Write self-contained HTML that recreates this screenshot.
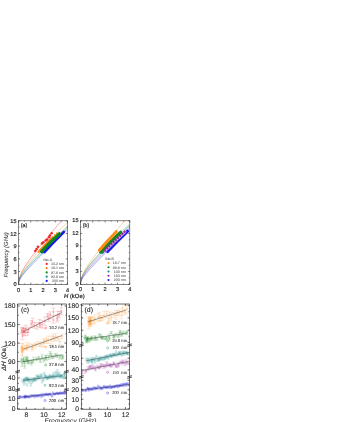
<!DOCTYPE html>
<html><head><meta charset="utf-8"><title>Figure</title>
<style>html,body{margin:0;padding:0;background:#fff}body{width:338px;height:422px;overflow:hidden;font-family:"Liberation Sans",sans-serif}svg{display:block;font-family:"Liberation Sans",sans-serif;text-rendering:geometricPrecision;will-change:transform}</style></head>
<body><svg width="338" height="422" viewBox="0 0 338 422">
<rect width="338" height="422" fill="#fff"/>
<defs><clipPath id="cpa"><rect x="18.5" y="220.8" width="49" height="63.5"/></clipPath><clipPath id="cpb"><rect x="80.5" y="220.8" width="49.3" height="63.5"/></clipPath>
<clipPath id="cpc"><rect x="17.7" y="304" width="48.8" height="105.2"/></clipPath><clipPath id="cpd"><rect x="81.3" y="304" width="48.4" height="105.2"/></clipPath></defs>
<g clip-path="url(#cpa)">
<polyline points="18.5,284.3 18.53,283.16 18.59,282.32 18.68,281.56 18.78,280.84 18.91,280.16 19.04,279.5 19.2,278.86 19.36,278.23 19.54,277.62 19.73,277.01 19.93,276.41 20.15,275.82 20.37,275.23 20.61,274.64 20.85,274.06 21.11,273.48 21.38,272.9 21.65,272.32 21.94,271.75 22.23,271.17 22.53,270.59 22.85,270.02 23.17,269.44 23.49,268.86 23.83,268.28 24.18,267.7 24.53,267.11 24.89,266.53 25.26,265.94 25.64,265.35 26.02,264.75 26.41,264.16 26.81,263.56 27.22,262.96 27.63,262.35 28.06,261.74 28.48,261.13 28.92,260.52 29.36,259.9 29.81,259.28 30.27,258.65 30.73,258.02 31.2,257.39 31.67,256.75 32.16,256.11 32.65,255.47 33.14,254.82 33.64,254.16 34.15,253.51 34.66,252.84 35.18,252.18 35.71,251.51 36.24,250.83 36.78,250.15 37.33,249.47 37.88,248.78 38.43,248.09 39,247.4 39.56,246.69 40.14,245.99 40.72,245.28 41.3,244.57 41.9,243.85 42.49,243.12 43.1,242.39 43.7,241.66 44.32,240.93 44.94,240.18 45.56,239.44 46.19,238.69 46.83,237.93 47.47,237.17 48.12,236.41 48.77,235.64 49.42,234.86 50.09,234.08 50.75,233.3 51.43,232.51 52.1,231.72 52.79,230.92 53.48,230.12 54.17,229.31 54.87,228.5 55.57,227.69 56.28,226.86 56.99,226.04 57.71,225.21 58.44,224.37 59.16,223.54 59.9,222.69 60.64,221.84 61.38,220.99 62.13,220.13 62.88,219.27 63.64,218.4 64.4,217.53 65.17,216.65 65.94,215.77 66.72,214.89 67.5,214" fill="none" stroke="#f0202a" stroke-width="0.5" opacity="0.8"/>
<polyline points="18.5,284.3 18.53,283.25 18.59,282.47 18.68,281.77 18.78,281.11 18.91,280.48 19.04,279.87 19.2,279.28 19.36,278.7 19.54,278.13 19.73,277.58 19.93,277.03 20.15,276.48 20.37,275.94 20.61,275.41 20.85,274.88 21.11,274.35 21.38,273.82 21.65,273.3 21.94,272.77 22.23,272.25 22.53,271.73 22.85,271.21 23.17,270.68 23.49,270.16 23.83,269.64 24.18,269.11 24.53,268.59 24.89,268.06 25.26,267.54 25.64,267.01 26.02,266.48 26.41,265.94 26.81,265.41 27.22,264.87 27.63,264.34 28.06,263.79 28.48,263.25 28.92,262.71 29.36,262.16 29.81,261.61 30.27,261.05 30.73,260.5 31.2,259.94 31.67,259.37 32.16,258.81 32.65,258.24 33.14,257.67 33.64,257.1 34.15,256.52 34.66,255.94 35.18,255.35 35.71,254.77 36.24,254.17 36.78,253.58 37.33,252.98 37.88,252.38 38.43,251.78 39,251.17 39.56,250.56 40.14,249.94 40.72,249.32 41.3,248.7 41.9,248.08 42.49,247.45 43.1,246.81 43.7,246.18 44.32,245.54 44.94,244.89 45.56,244.25 46.19,243.6 46.83,242.94 47.47,242.28 48.12,241.62 48.77,240.95 49.42,240.28 50.09,239.61 50.75,238.93 51.43,238.25 52.1,237.57 52.79,236.88 53.48,236.18 54.17,235.49 54.87,234.79 55.57,234.08 56.28,233.38 56.99,232.67 57.71,231.95 58.44,231.23 59.16,230.51 59.9,229.78 60.64,229.05 61.38,228.32 62.13,227.58 62.88,226.84 63.64,226.09 64.4,225.34 65.17,224.59 65.94,223.83 66.72,223.07 67.5,222.31" fill="none" stroke="#ff8a14" stroke-width="0.5" opacity="0.8"/>
<polyline points="18.5,284.3 18.53,283.38 18.59,282.69 18.68,282.08 18.78,281.5 18.91,280.94 19.04,280.41 19.2,279.89 19.36,279.38 19.54,278.88 19.73,278.38 19.93,277.9 20.15,277.41 20.37,276.93 20.61,276.46 20.85,275.98 21.11,275.51 21.38,275.04 21.65,274.57 21.94,274.1 22.23,273.63 22.53,273.16 22.85,272.68 23.17,272.21 23.49,271.74 23.83,271.26 24.18,270.79 24.53,270.31 24.89,269.83 25.26,269.35 25.64,268.86 26.02,268.38 26.41,267.89 26.81,267.4 27.22,266.9 27.63,266.41 28.06,265.91 28.48,265.4 28.92,264.9 29.36,264.39 29.81,263.88 30.27,263.36 30.73,262.85 31.2,262.32 31.67,261.8 32.16,261.27 32.65,260.74 33.14,260.21 33.64,259.67 34.15,259.12 34.66,258.58 35.18,258.03 35.71,257.48 36.24,256.92 36.78,256.36 37.33,255.8 37.88,255.23 38.43,254.66 39,254.08 39.56,253.5 40.14,252.92 40.72,252.33 41.3,251.74 41.9,251.15 42.49,250.55 43.1,249.95 43.7,249.34 44.32,248.73 44.94,248.12 45.56,247.5 46.19,246.88 46.83,246.25 47.47,245.63 48.12,244.99 48.77,244.36 49.42,243.71 50.09,243.07 50.75,242.42 51.43,241.77 52.1,241.11 52.79,240.45 53.48,239.79 54.17,239.12 54.87,238.44 55.57,237.77 56.28,237.09 56.99,236.4 57.71,235.72 58.44,235.02 59.16,234.33 59.9,233.63 60.64,232.92 61.38,232.22 62.13,231.51 62.88,230.79 63.64,230.07 64.4,229.35 65.17,228.62 65.94,227.89 66.72,227.16 67.5,226.42" fill="none" stroke="#14851e" stroke-width="0.5" opacity="0.8"/>
<polyline points="18.5,284.3 18.53,283.49 18.59,282.88 18.68,282.33 18.78,281.82 18.91,281.33 19.04,280.85 19.2,280.39 19.36,279.93 19.54,279.48 19.73,279.04 19.93,278.6 20.15,278.16 20.37,277.73 20.61,277.3 20.85,276.86 21.11,276.43 21.38,276 21.65,275.57 21.94,275.13 22.23,274.7 22.53,274.26 22.85,273.82 23.17,273.38 23.49,272.94 23.83,272.5 24.18,272.05 24.53,271.6 24.89,271.14 25.26,270.69 25.64,270.23 26.02,269.77 26.41,269.3 26.81,268.83 27.22,268.36 27.63,267.88 28.06,267.4 28.48,266.92 28.92,266.43 29.36,265.94 29.81,265.44 30.27,264.94 30.73,264.44 31.2,263.93 31.67,263.42 32.16,262.9 32.65,262.38 33.14,261.86 33.64,261.33 34.15,260.8 34.66,260.26 35.18,259.72 35.71,259.18 36.24,258.63 36.78,258.07 37.33,257.51 37.88,256.95 38.43,256.38 39,255.81 39.56,255.24 40.14,254.66 40.72,254.07 41.3,253.48 41.9,252.89 42.49,252.29 43.1,251.69 43.7,251.09 44.32,250.48 44.94,249.86 45.56,249.24 46.19,248.62 46.83,247.99 47.47,247.36 48.12,246.72 48.77,246.08 49.42,245.43 50.09,244.78 50.75,244.13 51.43,243.47 52.1,242.81 52.79,242.14 53.48,241.47 54.17,240.8 54.87,240.12 55.57,239.43 56.28,238.74 56.99,238.05 57.71,237.35 58.44,236.65 59.16,235.95 59.9,235.24 60.64,234.52 61.38,233.81 62.13,233.08 62.88,232.36 63.64,231.63 64.4,230.89 65.17,230.15 65.94,229.41 66.72,228.66 67.5,227.91" fill="none" stroke="#179090" stroke-width="0.5" opacity="0.8"/>
<polyline points="18.5,284.3 18.53,283.59 18.59,283.06 18.68,282.59 18.78,282.14 18.91,281.7 19.04,281.28 19.2,280.87 19.36,280.47 19.54,280.07 19.73,279.68 19.93,279.28 20.15,278.89 20.37,278.5 20.61,278.11 20.85,277.71 21.11,277.32 21.38,276.93 21.65,276.53 21.94,276.13 22.23,275.73 22.53,275.32 22.85,274.92 23.17,274.5 23.49,274.09 23.83,273.67 24.18,273.25 24.53,272.83 24.89,272.4 25.26,271.96 25.64,271.53 26.02,271.09 26.41,270.64 26.81,270.19 27.22,269.73 27.63,269.28 28.06,268.81 28.48,268.34 28.92,267.87 29.36,267.39 29.81,266.91 30.27,266.43 30.73,265.93 31.2,265.44 31.67,264.94 32.16,264.43 32.65,263.92 33.14,263.41 33.64,262.89 34.15,262.36 34.66,261.83 35.18,261.3 35.71,260.76 36.24,260.21 36.78,259.66 37.33,259.11 37.88,258.55 38.43,257.99 39,257.42 39.56,256.84 40.14,256.27 40.72,255.68 41.3,255.1 41.9,254.5 42.49,253.91 43.1,253.3 43.7,252.7 44.32,252.09 44.94,251.47 45.56,250.85 46.19,250.22 46.83,249.59 47.47,248.96 48.12,248.32 48.77,247.67 49.42,247.02 50.09,246.37 50.75,245.71 51.43,245.05 52.1,244.38 52.79,243.71 53.48,243.03 54.17,242.35 54.87,241.66 55.57,240.97 56.28,240.27 56.99,239.57 57.71,238.87 58.44,238.16 59.16,237.45 59.9,236.73 60.64,236.01 61.38,235.28 62.13,234.55 62.88,233.81 63.64,233.07 64.4,232.33 65.17,231.58 65.94,230.83 66.72,230.07 67.5,229.31" fill="none" stroke="#1a1af0" stroke-width="0.5" opacity="0.8"/>
<path d="M42 252.2Q49.65 243.75 58 236" fill="none" stroke="#179090" stroke-width="3.0" stroke-linecap="round"/>
<path d="M44.4 252Q53.75 241.6 63.8 231.9" fill="none" stroke="#1a1af0" stroke-width="2.8" stroke-linecap="round"/>
<path d="M38.8 251.8Q45.3 244.35 52.5 237.6" fill="none" stroke="#ff8a14" stroke-width="2.4" stroke-linecap="round"/>
<path d="M53 237Q54.65 234.75 57 233.2" fill="none" stroke="#ff8a14" stroke-width="1.8" stroke-linecap="round" stroke-dasharray="0.1 2.6"/>
<path d="M41.6 251.4Q50.15 242.25 59.4 233.8" fill="none" stroke="#14851e" stroke-width="3.2" stroke-linecap="round"/>
<circle cx="35.34" cy="250.99" r="1.25" fill="#f0202a"/>
<circle cx="36.52" cy="248.98" r="1.25" fill="#f0202a"/>
<circle cx="37.94" cy="246.85" r="1.25" fill="#f0202a"/>
<circle cx="41.96" cy="243.54" r="1.25" fill="#f0202a"/>
<circle cx="43.38" cy="242.36" r="1.25" fill="#f0202a"/>
<circle cx="45.75" cy="240.58" r="1.25" fill="#f0202a"/>
<circle cx="47.17" cy="239.51" r="1.25" fill="#f0202a"/>
<circle cx="49.07" cy="237.15" r="1.25" fill="#f0202a"/>
<circle cx="50.01" cy="235.49" r="1.25" fill="#f0202a"/>
<circle cx="51.67" cy="233.36" r="1.25" fill="#f0202a"/>
</g>
<rect x="18.5" y="220.8" width="49" height="63.5" fill="none" stroke="#333" stroke-width="0.6"/>
<path d="M18.5 284.3h1.6M67.5 284.3h-1.6" stroke="#222" stroke-width="0.6"/>
<text x="16.5" y="286.3" font-size="5.6" text-anchor="end" fill="#222" stroke="#222" stroke-width="0.16">0</text>
<path d="M18.5 271.6h1.6M67.5 271.6h-1.6" stroke="#222" stroke-width="0.6"/>
<text x="16.5" y="273.6" font-size="5.6" text-anchor="end" fill="#222" stroke="#222" stroke-width="0.16">3</text>
<path d="M18.5 258.9h1.6M67.5 258.9h-1.6" stroke="#222" stroke-width="0.6"/>
<text x="16.5" y="260.9" font-size="5.6" text-anchor="end" fill="#222" stroke="#222" stroke-width="0.16">6</text>
<path d="M18.5 246.2h1.6M67.5 246.2h-1.6" stroke="#222" stroke-width="0.6"/>
<text x="16.5" y="248.2" font-size="5.6" text-anchor="end" fill="#222" stroke="#222" stroke-width="0.16">9</text>
<path d="M18.5 233.5h1.6M67.5 233.5h-1.6" stroke="#222" stroke-width="0.6"/>
<text x="16.5" y="235.5" font-size="5.6" text-anchor="end" fill="#222" stroke="#222" stroke-width="0.16">12</text>
<path d="M18.5 220.8h1.6M67.5 220.8h-1.6" stroke="#222" stroke-width="0.6"/>
<text x="16.5" y="222.8" font-size="5.6" text-anchor="end" fill="#222" stroke="#222" stroke-width="0.16">15</text>
<path d="M18.5 277.95h1M67.5 277.95h-1" stroke="#222" stroke-width="0.5"/>
<path d="M18.5 265.25h1M67.5 265.25h-1" stroke="#222" stroke-width="0.5"/>
<path d="M18.5 252.55h1M67.5 252.55h-1" stroke="#222" stroke-width="0.5"/>
<path d="M18.5 239.85h1M67.5 239.85h-1" stroke="#222" stroke-width="0.5"/>
<path d="M18.5 227.15h1M67.5 227.15h-1" stroke="#222" stroke-width="0.5"/>
<path d="M18.5 284.3v-1.6M18.5 220.8v1.6" stroke="#222" stroke-width="0.6"/>
<text x="18.5" y="291.6" font-size="5.6" text-anchor="middle" fill="#222" stroke="#222" stroke-width="0.16">0</text>
<path d="M30.75 284.3v-1.6M30.75 220.8v1.6" stroke="#222" stroke-width="0.6"/>
<text x="30.75" y="291.6" font-size="5.6" text-anchor="middle" fill="#222" stroke="#222" stroke-width="0.16">1</text>
<path d="M43 284.3v-1.6M43 220.8v1.6" stroke="#222" stroke-width="0.6"/>
<text x="43" y="291.6" font-size="5.6" text-anchor="middle" fill="#222" stroke="#222" stroke-width="0.16">2</text>
<path d="M55.25 284.3v-1.6M55.25 220.8v1.6" stroke="#222" stroke-width="0.6"/>
<text x="55.25" y="291.6" font-size="5.6" text-anchor="middle" fill="#222" stroke="#222" stroke-width="0.16">3</text>
<path d="M67.5 284.3v-1.6M67.5 220.8v1.6" stroke="#222" stroke-width="0.6"/>
<text x="67.5" y="291.6" font-size="5.6" text-anchor="middle" fill="#222" stroke="#222" stroke-width="0.16">4</text>
<path d="M24.62 284.3v-1M24.62 220.8v1" stroke="#222" stroke-width="0.5"/>
<path d="M36.88 284.3v-1M36.88 220.8v1" stroke="#222" stroke-width="0.5"/>
<path d="M49.12 284.3v-1M49.12 220.8v1" stroke="#222" stroke-width="0.5"/>
<path d="M61.38 284.3v-1M61.38 220.8v1" stroke="#222" stroke-width="0.5"/>
<text x="20.7" y="227.4" font-size="5.3" text-anchor="start" fill="#222" stroke="#222" stroke-width="0.16">(a)</text>
<text x="43.2" y="260.6" font-size="3.6" text-anchor="start" fill="#555" stroke="#555" stroke-width="0.05">Set-A</text>
<circle cx="46.7" cy="263.9" r="1.1" fill="#f0202a"/>
<text x="63.9" y="265.15" font-size="3.6" text-anchor="end" fill="#555" stroke="#555" stroke-width="0.05">10.2 nm</text>
<circle cx="46.7" cy="268.15" r="1.1" fill="#ff8a14"/>
<text x="63.9" y="269.4" font-size="3.6" text-anchor="end" fill="#555" stroke="#555" stroke-width="0.05">18.1 nm</text>
<circle cx="46.7" cy="272.4" r="1.1" fill="#14851e"/>
<text x="63.9" y="273.65" font-size="3.6" text-anchor="end" fill="#555" stroke="#555" stroke-width="0.05">37.6 nm</text>
<circle cx="46.7" cy="276.65" r="1.1" fill="#179090"/>
<text x="63.9" y="277.9" font-size="3.6" text-anchor="end" fill="#555" stroke="#555" stroke-width="0.05">92.3 nm</text>
<circle cx="46.7" cy="280.9" r="1.1" fill="#1a1af0"/>
<text x="63.9" y="282.15" font-size="3.6" text-anchor="end" fill="#555" stroke="#555" stroke-width="0.05">200 nm</text>
<g clip-path="url(#cpb)">
<polyline points="80.5,284.3 80.53,283.19 80.59,282.36 80.68,281.62 80.79,280.92 80.91,280.25 81.05,279.6 81.2,278.97 81.37,278.36 81.55,277.75 81.74,277.16 81.94,276.57 82.16,275.99 82.38,275.41 82.62,274.84 82.87,274.27 83.13,273.7 83.39,273.13 83.67,272.56 83.96,272 84.25,271.43 84.56,270.87 84.87,270.3 85.19,269.73 85.53,269.16 85.86,268.59 86.21,268.02 86.57,267.45 86.93,266.87 87.3,266.29 87.68,265.71 88.07,265.13 88.46,264.54 88.87,263.95 89.27,263.36 89.69,262.77 90.11,262.17 90.55,261.57 90.98,260.96 91.43,260.35 91.88,259.74 92.34,259.12 92.8,258.5 93.28,257.88 93.75,257.25 94.24,256.62 94.73,255.98 95.23,255.34 95.73,254.7 96.25,254.05 96.76,253.4 97.29,252.74 97.82,252.08 98.35,251.42 98.89,250.75 99.44,250.08 100,249.4 100.56,248.72 101.12,248.03 101.69,247.34 102.27,246.64 102.85,245.94 103.44,245.24 104.04,244.53 104.64,243.82 105.25,243.1 105.86,242.37 106.48,241.65 107.1,240.92 107.73,240.18 108.36,239.44 109,238.69 109.65,237.94 110.3,237.19 110.95,236.43 111.61,235.66 112.28,234.89 112.95,234.12 113.63,233.34 114.31,232.56 115,231.77 115.69,230.98 116.39,230.18 117.09,229.38 117.8,228.58 118.51,227.77 119.23,226.95 119.95,226.13 120.68,225.31 121.41,224.48 122.15,223.65 122.89,222.81 123.64,221.96 124.4,221.12 125.15,220.27 125.92,219.41 126.68,218.55 127.45,217.68 128.23,216.81 129.01,215.94 129.8,215.06" fill="none" stroke="#ff8a14" stroke-width="0.5" opacity="0.8"/>
<polyline points="80.5,284.3 80.53,283.27 80.59,282.5 80.68,281.8 80.79,281.15 80.91,280.53 81.05,279.94 81.2,279.35 81.37,278.79 81.55,278.23 81.74,277.68 81.94,277.14 82.16,276.61 82.38,276.08 82.62,275.55 82.87,275.03 83.13,274.51 83.39,273.99 83.67,273.48 83.96,272.97 84.25,272.45 84.56,271.94 84.87,271.43 85.19,270.92 85.53,270.41 85.86,269.9 86.21,269.38 86.57,268.87 86.93,268.36 87.3,267.84 87.68,267.33 88.07,266.81 88.46,266.29 88.87,265.77 89.27,265.24 89.69,264.72 90.11,264.19 90.55,263.66 90.98,263.13 91.43,262.6 91.88,262.06 92.34,261.52 92.8,260.98 93.28,260.44 93.75,259.89 94.24,259.34 94.73,258.79 95.23,258.23 95.73,257.67 96.25,257.11 96.76,256.55 97.29,255.98 97.82,255.41 98.35,254.84 98.89,254.26 99.44,253.68 100,253.1 100.56,252.51 101.12,251.92 101.69,251.33 102.27,250.73 102.85,250.14 103.44,249.53 104.04,248.93 104.64,248.32 105.25,247.7 105.86,247.09 106.48,246.47 107.1,245.84 107.73,245.22 108.36,244.59 109,243.95 109.65,243.32 110.3,242.68 110.95,242.03 111.61,241.38 112.28,240.73 112.95,240.08 113.63,239.42 114.31,238.76 115,238.09 115.69,237.42 116.39,236.75 117.09,236.07 117.8,235.39 118.51,234.71 119.23,234.02 119.95,233.33 120.68,232.64 121.41,231.94 122.15,231.24 122.89,230.53 123.64,229.82 124.4,229.11 125.15,228.4 125.92,227.68 126.68,226.95 127.45,226.23 128.23,225.5 129.01,224.76 129.8,224.02" fill="none" stroke="#14851e" stroke-width="0.5" opacity="0.8"/>
<polyline points="80.5,284.3 80.53,283.35 80.59,282.65 80.68,282.01 80.79,281.41 80.91,280.84 81.05,280.29 81.2,279.76 81.37,279.23 81.55,278.72 81.74,278.21 81.94,277.71 82.16,277.21 82.38,276.72 82.62,276.23 82.87,275.75 83.13,275.26 83.39,274.78 83.67,274.29 83.96,273.81 84.25,273.33 84.56,272.85 84.87,272.37 85.19,271.88 85.53,271.4 85.86,270.91 86.21,270.43 86.57,269.94 86.93,269.45 87.3,268.95 87.68,268.46 88.07,267.96 88.46,267.47 88.87,266.96 89.27,266.46 89.69,265.95 90.11,265.44 90.55,264.93 90.98,264.42 91.43,263.9 91.88,263.38 92.34,262.86 92.8,262.33 93.28,261.8 93.75,261.26 94.24,260.73 94.73,260.19 95.23,259.64 95.73,259.1 96.25,258.54 96.76,257.99 97.29,257.43 97.82,256.87 98.35,256.31 98.89,255.74 99.44,255.16 100,254.59 100.56,254.01 101.12,253.42 101.69,252.84 102.27,252.25 102.85,251.65 103.44,251.05 104.04,250.45 104.64,249.84 105.25,249.23 105.86,248.62 106.48,248 107.1,247.38 107.73,246.75 108.36,246.12 109,245.49 109.65,244.85 110.3,244.21 110.95,243.57 111.61,242.92 112.28,242.26 112.95,241.61 113.63,240.95 114.31,240.28 115,239.61 115.69,238.94 116.39,238.26 117.09,237.58 117.8,236.9 118.51,236.21 119.23,235.52 119.95,234.82 120.68,234.12 121.41,233.42 122.15,232.71 122.89,232 123.64,231.28 124.4,230.57 125.15,229.84 125.92,229.11 126.68,228.38 127.45,227.65 128.23,226.91 129.01,226.17 129.8,225.42" fill="none" stroke="#179090" stroke-width="0.5" opacity="0.8"/>
<polyline points="80.5,284.3 80.53,283.47 80.59,282.85 80.68,282.29 80.79,281.76 80.91,281.26 81.05,280.77 81.2,280.29 81.37,279.83 81.55,279.37 81.74,278.91 81.94,278.46 82.16,278.02 82.38,277.57 82.62,277.13 82.87,276.69 83.13,276.25 83.39,275.81 83.67,275.37 83.96,274.92 84.25,274.48 84.56,274.04 84.87,273.59 85.19,273.14 85.53,272.69 85.86,272.24 86.21,271.78 86.57,271.32 86.93,270.86 87.3,270.39 87.68,269.93 88.07,269.46 88.46,268.98 88.87,268.5 89.27,268.02 89.69,267.54 90.11,267.05 90.55,266.56 90.98,266.06 91.43,265.56 91.88,265.06 92.34,264.55 92.8,264.04 93.28,263.52 93.75,263 94.24,262.48 94.73,261.95 95.23,261.42 95.73,260.88 96.25,260.34 96.76,259.8 97.29,259.25 97.82,258.7 98.35,258.14 98.89,257.58 99.44,257.01 100,256.44 100.56,255.86 101.12,255.28 101.69,254.7 102.27,254.11 102.85,253.52 103.44,252.92 104.04,252.32 104.64,251.72 105.25,251.1 105.86,250.49 106.48,249.87 107.1,249.25 107.73,248.62 108.36,247.99 109,247.35 109.65,246.71 110.3,246.07 110.95,245.42 111.61,244.76 112.28,244.1 112.95,243.44 113.63,242.77 114.31,242.1 115,241.43 115.69,240.75 116.39,240.06 117.09,239.37 117.8,238.68 118.51,237.98 119.23,237.28 119.95,236.58 120.68,235.87 121.41,235.15 122.15,234.43 122.89,233.71 123.64,232.98 124.4,232.25 125.15,231.52 125.92,230.78 126.68,230.03 127.45,229.28 128.23,228.53 129.01,227.77 129.8,227.01" fill="none" stroke="#a020a0" stroke-width="0.5" opacity="0.8"/>
<polyline points="80.5,284.3 80.53,283.6 80.59,283.09 80.68,282.62 80.79,282.18 80.91,281.75 81.05,281.34 81.2,280.93 81.37,280.53 81.55,280.14 81.74,279.75 81.94,279.36 82.16,278.97 82.38,278.58 82.62,278.19 82.87,277.8 83.13,277.41 83.39,277.02 83.67,276.62 83.96,276.22 84.25,275.82 84.56,275.41 84.87,275 85.19,274.59 85.53,274.18 85.86,273.76 86.21,273.33 86.57,272.9 86.93,272.47 87.3,272.03 87.68,271.59 88.07,271.14 88.46,270.69 88.87,270.24 89.27,269.78 89.69,269.31 90.11,268.84 90.55,268.37 90.98,267.89 91.43,267.4 91.88,266.91 92.34,266.42 92.8,265.92 93.28,265.41 93.75,264.9 94.24,264.39 94.73,263.87 95.23,263.34 95.73,262.81 96.25,262.28 96.76,261.74 97.29,261.19 97.82,260.64 98.35,260.08 98.89,259.52 99.44,258.96 100,258.39 100.56,257.81 101.12,257.23 101.69,256.64 102.27,256.05 102.85,255.45 103.44,254.85 104.04,254.25 104.64,253.64 105.25,253.02 105.86,252.4 106.48,251.77 107.1,251.14 107.73,250.5 108.36,249.86 109,249.22 109.65,248.56 110.3,247.91 110.95,247.25 111.61,246.58 112.28,245.91 112.95,245.24 113.63,244.56 114.31,243.87 115,243.18 115.69,242.49 116.39,241.79 117.09,241.08 117.8,240.38 118.51,239.66 119.23,238.94 119.95,238.22 120.68,237.49 121.41,236.76 122.15,236.02 122.89,235.28 123.64,234.54 124.4,233.79 125.15,233.03 125.92,232.27 126.68,231.51 127.45,230.74 128.23,229.96 129.01,229.18 129.8,228.4" fill="none" stroke="#1a1af0" stroke-width="0.5" opacity="0.8"/>
<path d="M102.5 252.3Q111.4 242.55 121 233.5" fill="none" stroke="#179090" stroke-width="3.0" stroke-linecap="round"/>
<path d="M107.5 251.4Q117.1 241 127.4 231.3" fill="none" stroke="#1a1af0" stroke-width="3.3" stroke-linecap="round"/>
<path d="M105.1 250.6Q114.7 240.75 125 231.6" fill="none" stroke="#cfc8f0" stroke-width="3.0" stroke-linecap="round"/>
<path d="M100.6 252.2Q110.3 241.85 120.7 232.2" fill="none" stroke="#14851e" stroke-width="3.1" stroke-linecap="round"/>
<path d="M105.1 250.6Q114.7 240.75 125 231.6" fill="none" stroke="#a020a0" stroke-width="2.4" stroke-linecap="round" stroke-dasharray="0.1 2.9"/>
<path d="M99.3 250.2Q107.45 240.6 116.3 231.7" fill="none" stroke="#ff8a14" stroke-width="3.0" stroke-linecap="round"/>
</g>
<rect x="80.5" y="220.8" width="49.3" height="63.5" fill="none" stroke="#333" stroke-width="0.6"/>
<path d="M80.5 284.3h1.6M129.8 284.3h-1.6" stroke="#222" stroke-width="0.6"/>
<text x="78.5" y="285.5" font-size="5.6" text-anchor="end" fill="#222" stroke="#222" stroke-width="0.16">0</text>
<path d="M80.5 271.6h1.6M129.8 271.6h-1.6" stroke="#222" stroke-width="0.6"/>
<text x="78.5" y="272.8" font-size="5.6" text-anchor="end" fill="#222" stroke="#222" stroke-width="0.16">3</text>
<path d="M80.5 258.9h1.6M129.8 258.9h-1.6" stroke="#222" stroke-width="0.6"/>
<text x="78.5" y="260.1" font-size="5.6" text-anchor="end" fill="#222" stroke="#222" stroke-width="0.16">6</text>
<path d="M80.5 246.2h1.6M129.8 246.2h-1.6" stroke="#222" stroke-width="0.6"/>
<text x="78.5" y="247.4" font-size="5.6" text-anchor="end" fill="#222" stroke="#222" stroke-width="0.16">9</text>
<path d="M80.5 233.5h1.6M129.8 233.5h-1.6" stroke="#222" stroke-width="0.6"/>
<text x="78.5" y="234.7" font-size="5.6" text-anchor="end" fill="#222" stroke="#222" stroke-width="0.16">12</text>
<path d="M80.5 220.8h1.6M129.8 220.8h-1.6" stroke="#222" stroke-width="0.6"/>
<text x="78.5" y="222" font-size="5.6" text-anchor="end" fill="#222" stroke="#222" stroke-width="0.16">15</text>
<path d="M80.5 277.95h1M129.8 277.95h-1" stroke="#222" stroke-width="0.5"/>
<path d="M80.5 265.25h1M129.8 265.25h-1" stroke="#222" stroke-width="0.5"/>
<path d="M80.5 252.55h1M129.8 252.55h-1" stroke="#222" stroke-width="0.5"/>
<path d="M80.5 239.85h1M129.8 239.85h-1" stroke="#222" stroke-width="0.5"/>
<path d="M80.5 227.15h1M129.8 227.15h-1" stroke="#222" stroke-width="0.5"/>
<path d="M80.5 284.3v-1.6M80.5 220.8v1.6" stroke="#222" stroke-width="0.6"/>
<text x="80.5" y="290.9" font-size="5.6" text-anchor="middle" fill="#222" stroke="#222" stroke-width="0.16">0</text>
<path d="M92.83 284.3v-1.6M92.83 220.8v1.6" stroke="#222" stroke-width="0.6"/>
<text x="92.83" y="290.9" font-size="5.6" text-anchor="middle" fill="#222" stroke="#222" stroke-width="0.16">1</text>
<path d="M105.15 284.3v-1.6M105.15 220.8v1.6" stroke="#222" stroke-width="0.6"/>
<text x="105.15" y="290.9" font-size="5.6" text-anchor="middle" fill="#222" stroke="#222" stroke-width="0.16">2</text>
<path d="M117.48 284.3v-1.6M117.48 220.8v1.6" stroke="#222" stroke-width="0.6"/>
<text x="117.48" y="290.9" font-size="5.6" text-anchor="middle" fill="#222" stroke="#222" stroke-width="0.16">3</text>
<path d="M129.8 284.3v-1.6M129.8 220.8v1.6" stroke="#222" stroke-width="0.6"/>
<text x="129.8" y="290.9" font-size="5.6" text-anchor="middle" fill="#222" stroke="#222" stroke-width="0.16">4</text>
<path d="M86.66 284.3v-1M86.66 220.8v1" stroke="#222" stroke-width="0.5"/>
<path d="M98.99 284.3v-1M98.99 220.8v1" stroke="#222" stroke-width="0.5"/>
<path d="M111.31 284.3v-1M111.31 220.8v1" stroke="#222" stroke-width="0.5"/>
<path d="M123.64 284.3v-1M123.64 220.8v1" stroke="#222" stroke-width="0.5"/>
<text x="82.7" y="227.4" font-size="5.3" text-anchor="start" fill="#222" stroke="#222" stroke-width="0.16">(b)</text>
<text x="105" y="259.7" font-size="3.6" text-anchor="start" fill="#555" stroke="#555" stroke-width="0.05">Set-B</text>
<circle cx="108.5" cy="263" r="1.1" fill="#ff8a14"/>
<text x="125.7" y="264.25" font-size="3.6" text-anchor="end" fill="#555" stroke="#555" stroke-width="0.05">18.7 nm</text>
<circle cx="108.5" cy="267.25" r="1.1" fill="#14851e"/>
<text x="125.7" y="268.5" font-size="3.6" text-anchor="end" fill="#555" stroke="#555" stroke-width="0.05">39.8 nm</text>
<circle cx="108.5" cy="271.5" r="1.1" fill="#179090"/>
<text x="125.7" y="272.75" font-size="3.6" text-anchor="end" fill="#555" stroke="#555" stroke-width="0.05">100 nm</text>
<circle cx="108.5" cy="275.75" r="1.1" fill="#a020a0"/>
<text x="125.7" y="277" font-size="3.6" text-anchor="end" fill="#555" stroke="#555" stroke-width="0.05">150 nm</text>
<circle cx="108.5" cy="280" r="1.1" fill="#1a1af0"/>
<text x="125.7" y="281.25" font-size="3.6" text-anchor="end" fill="#555" stroke="#555" stroke-width="0.05">200 nm</text>
<text x="7.8" y="254.8" font-size="5.9" text-anchor="middle" fill="#333" stroke="#333" stroke-width="0.06" font-style="italic" transform="rotate(-90 7.8 254.8)">Frequency (GHz)</text>
<text x="64.0" y="298.4" font-size="5.9" fill="#222" stroke="#222" stroke-width="0.2"><tspan font-style="italic">H</tspan> (kOe)</text>
<g clip-path="url(#cpc)">
<path d="M23.65 327.1V332.39M21.65 327.1h4M21.65 332.39h4" stroke="#f0202a" stroke-width="0.35" fill="none" opacity="0.53"/>
<circle cx="23.65" cy="329.74" r="0.85" stroke="#f0202a" stroke-width="0.35" fill="none" opacity="0.6"/>
<path d="M22.5 332.48V339.56M20.5 332.48h4M20.5 339.56h4" stroke="#f0202a" stroke-width="0.35" fill="none" opacity="0.53"/>
<circle cx="22.5" cy="336.02" r="0.85" stroke="#f0202a" stroke-width="0.35" fill="none" opacity="0.6"/>
<path d="M25.82 325.3V332.24M23.82 325.3h4M23.82 332.24h4" stroke="#f0202a" stroke-width="0.35" fill="none" opacity="0.53"/>
<circle cx="25.82" cy="328.77" r="0.85" stroke="#f0202a" stroke-width="0.35" fill="none" opacity="0.6"/>
<path d="M21.98 328V332.76M19.98 328h4M19.98 332.76h4" stroke="#f0202a" stroke-width="0.35" fill="none" opacity="0.53"/>
<circle cx="21.98" cy="330.38" r="0.85" stroke="#f0202a" stroke-width="0.35" fill="none" opacity="0.6"/>
<path d="M25.06 328.39V335.92M23.06 328.39h4M23.06 335.92h4" stroke="#f0202a" stroke-width="0.35" fill="none" opacity="0.53"/>
<circle cx="25.06" cy="332.15" r="0.85" stroke="#f0202a" stroke-width="0.35" fill="none" opacity="0.6"/>
<path d="M23.93 328.59V334.99M21.93 328.59h4M21.93 334.99h4" stroke="#f0202a" stroke-width="0.35" fill="none" opacity="0.53"/>
<circle cx="23.93" cy="331.79" r="0.85" stroke="#f0202a" stroke-width="0.35" fill="none" opacity="0.6"/>
<path d="M21.89 327.7V334.21M19.89 327.7h4M19.89 334.21h4" stroke="#f0202a" stroke-width="0.35" fill="none" opacity="0.53"/>
<circle cx="21.89" cy="330.95" r="0.85" stroke="#f0202a" stroke-width="0.35" fill="none" opacity="0.6"/>
<path d="M27.46 329.47V335.29M25.46 329.47h4M25.46 335.29h4" stroke="#f0202a" stroke-width="0.35" fill="none" opacity="0.53"/>
<circle cx="27.46" cy="332.38" r="0.85" stroke="#f0202a" stroke-width="0.35" fill="none" opacity="0.6"/>
<path d="M28.47 327.19V332.76M26.47 327.19h4M26.47 332.76h4" stroke="#f0202a" stroke-width="0.35" fill="none" opacity="0.53"/>
<circle cx="28.47" cy="329.97" r="0.85" stroke="#f0202a" stroke-width="0.35" fill="none" opacity="0.6"/>
<path d="M31.16 320.52V327.58M29.16 320.52h4M29.16 327.58h4" stroke="#f0202a" stroke-width="0.35" fill="none" opacity="0.53"/>
<circle cx="31.16" cy="324.05" r="0.85" stroke="#f0202a" stroke-width="0.35" fill="none" opacity="0.6"/>
<path d="M32.38 318.31V326.06M30.38 318.31h4M30.38 326.06h4" stroke="#f0202a" stroke-width="0.35" fill="none" opacity="0.53"/>
<circle cx="32.38" cy="322.19" r="0.85" stroke="#f0202a" stroke-width="0.35" fill="none" opacity="0.6"/>
<path d="M34.34 322.4V328.17M32.34 322.4h4M32.34 328.17h4" stroke="#f0202a" stroke-width="0.35" fill="none" opacity="0.53"/>
<circle cx="34.34" cy="325.28" r="0.85" stroke="#f0202a" stroke-width="0.35" fill="none" opacity="0.6"/>
<path d="M36.91 322.8V329.16M34.91 322.8h4M34.91 329.16h4" stroke="#f0202a" stroke-width="0.35" fill="none" opacity="0.53"/>
<circle cx="36.91" cy="325.98" r="0.85" stroke="#f0202a" stroke-width="0.35" fill="none" opacity="0.6"/>
<path d="M39.6 319.37V327.24M37.6 319.37h4M37.6 327.24h4" stroke="#f0202a" stroke-width="0.35" fill="none" opacity="0.53"/>
<circle cx="39.6" cy="323.31" r="0.85" stroke="#f0202a" stroke-width="0.35" fill="none" opacity="0.6"/>
<path d="M40.17 322.45V327.11M38.17 322.45h4M38.17 327.11h4" stroke="#f0202a" stroke-width="0.35" fill="none" opacity="0.53"/>
<circle cx="40.17" cy="324.78" r="0.85" stroke="#f0202a" stroke-width="0.35" fill="none" opacity="0.6"/>
<path d="M42.29 320.66V328.14M40.29 320.66h4M40.29 328.14h4" stroke="#f0202a" stroke-width="0.35" fill="none" opacity="0.53"/>
<circle cx="42.29" cy="324.4" r="0.85" stroke="#f0202a" stroke-width="0.35" fill="none" opacity="0.6"/>
<path d="M44.98 316.88V325.29M42.98 316.88h4M42.98 325.29h4" stroke="#f0202a" stroke-width="0.35" fill="none" opacity="0.53"/>
<circle cx="44.98" cy="321.09" r="0.85" stroke="#f0202a" stroke-width="0.35" fill="none" opacity="0.6"/>
<path d="M47.52 313.49V319.37M45.52 313.49h4M45.52 319.37h4" stroke="#f0202a" stroke-width="0.35" fill="none" opacity="0.53"/>
<circle cx="47.52" cy="316.43" r="0.85" stroke="#f0202a" stroke-width="0.35" fill="none" opacity="0.6"/>
<path d="M48.73 314.32V321.4M46.73 314.32h4M46.73 321.4h4" stroke="#f0202a" stroke-width="0.35" fill="none" opacity="0.53"/>
<circle cx="48.73" cy="317.86" r="0.85" stroke="#f0202a" stroke-width="0.35" fill="none" opacity="0.6"/>
<path d="M50.31 311.87V318.4M48.31 311.87h4M48.31 318.4h4" stroke="#f0202a" stroke-width="0.35" fill="none" opacity="0.53"/>
<circle cx="50.31" cy="315.14" r="0.85" stroke="#f0202a" stroke-width="0.35" fill="none" opacity="0.6"/>
<path d="M53.34 316.46V323.07M51.34 316.46h4M51.34 323.07h4" stroke="#f0202a" stroke-width="0.35" fill="none" opacity="0.53"/>
<circle cx="53.34" cy="319.77" r="0.85" stroke="#f0202a" stroke-width="0.35" fill="none" opacity="0.6"/>
<path d="M53.48 308V315.46M51.48 308h4M51.48 315.46h4" stroke="#f0202a" stroke-width="0.35" fill="none" opacity="0.53"/>
<circle cx="53.48" cy="311.73" r="0.85" stroke="#f0202a" stroke-width="0.35" fill="none" opacity="0.6"/>
<path d="M56.96 314.66V322.04M54.96 314.66h4M54.96 322.04h4" stroke="#f0202a" stroke-width="0.35" fill="none" opacity="0.53"/>
<circle cx="56.96" cy="318.35" r="0.85" stroke="#f0202a" stroke-width="0.35" fill="none" opacity="0.6"/>
<path d="M57.79 311.4V320.33M55.79 311.4h4M55.79 320.33h4" stroke="#f0202a" stroke-width="0.35" fill="none" opacity="0.53"/>
<circle cx="57.79" cy="315.87" r="0.85" stroke="#f0202a" stroke-width="0.35" fill="none" opacity="0.6"/>
<path d="M59.43 311.42V317.63M57.43 311.42h4M57.43 317.63h4" stroke="#f0202a" stroke-width="0.35" fill="none" opacity="0.53"/>
<circle cx="59.43" cy="314.53" r="0.85" stroke="#f0202a" stroke-width="0.35" fill="none" opacity="0.6"/>
<path d="M61.3 307.24V314.72M59.3 307.24h4M59.3 314.72h4" stroke="#f0202a" stroke-width="0.35" fill="none" opacity="0.53"/>
<circle cx="61.3" cy="310.98" r="0.85" stroke="#f0202a" stroke-width="0.35" fill="none" opacity="0.6"/>
<path d="M21.65 346.41V350.49M19.65 346.41h4M19.65 350.49h4" stroke="#ff8a14" stroke-width="0.35" fill="none" opacity="0.53"/>
<circle cx="21.65" cy="348.45" r="0.85" stroke="#ff8a14" stroke-width="0.35" fill="none" opacity="0.6"/>
<path d="M24.57 345.06V350.82M22.57 345.06h4M22.57 350.82h4" stroke="#ff8a14" stroke-width="0.35" fill="none" opacity="0.53"/>
<circle cx="24.57" cy="347.94" r="0.85" stroke="#ff8a14" stroke-width="0.35" fill="none" opacity="0.6"/>
<path d="M22.62 343.69V351.62M20.62 343.69h4M20.62 351.62h4" stroke="#ff8a14" stroke-width="0.35" fill="none" opacity="0.53"/>
<circle cx="22.62" cy="347.65" r="0.85" stroke="#ff8a14" stroke-width="0.35" fill="none" opacity="0.6"/>
<path d="M22.28 348.18V355.04M20.28 348.18h4M20.28 355.04h4" stroke="#ff8a14" stroke-width="0.35" fill="none" opacity="0.53"/>
<circle cx="22.28" cy="351.61" r="0.85" stroke="#ff8a14" stroke-width="0.35" fill="none" opacity="0.6"/>
<path d="M21.89 343.46V350.26M19.89 343.46h4M19.89 350.26h4" stroke="#ff8a14" stroke-width="0.35" fill="none" opacity="0.53"/>
<circle cx="21.89" cy="346.86" r="0.85" stroke="#ff8a14" stroke-width="0.35" fill="none" opacity="0.6"/>
<path d="M26.6 345.67V349.95M24.6 345.67h4M24.6 349.95h4" stroke="#ff8a14" stroke-width="0.35" fill="none" opacity="0.53"/>
<circle cx="26.6" cy="347.81" r="0.85" stroke="#ff8a14" stroke-width="0.35" fill="none" opacity="0.6"/>
<path d="M22.36 348.74V356.35M20.36 348.74h4M20.36 356.35h4" stroke="#ff8a14" stroke-width="0.35" fill="none" opacity="0.53"/>
<circle cx="22.36" cy="352.54" r="0.85" stroke="#ff8a14" stroke-width="0.35" fill="none" opacity="0.6"/>
<path d="M26.96 342.16V349.46M24.96 342.16h4M24.96 349.46h4" stroke="#ff8a14" stroke-width="0.35" fill="none" opacity="0.53"/>
<circle cx="26.96" cy="345.81" r="0.85" stroke="#ff8a14" stroke-width="0.35" fill="none" opacity="0.6"/>
<path d="M29.15 343.3V347.78M27.15 343.3h4M27.15 347.78h4" stroke="#ff8a14" stroke-width="0.35" fill="none" opacity="0.53"/>
<circle cx="29.15" cy="345.54" r="0.85" stroke="#ff8a14" stroke-width="0.35" fill="none" opacity="0.6"/>
<path d="M32 344.19V350.83M30 344.19h4M30 350.83h4" stroke="#ff8a14" stroke-width="0.35" fill="none" opacity="0.53"/>
<circle cx="32" cy="347.51" r="0.85" stroke="#ff8a14" stroke-width="0.35" fill="none" opacity="0.6"/>
<path d="M32.4 344.31V349.22M30.4 344.31h4M30.4 349.22h4" stroke="#ff8a14" stroke-width="0.35" fill="none" opacity="0.53"/>
<circle cx="32.4" cy="346.76" r="0.85" stroke="#ff8a14" stroke-width="0.35" fill="none" opacity="0.6"/>
<path d="M35.03 343.05V347.77M33.03 343.05h4M33.03 347.77h4" stroke="#ff8a14" stroke-width="0.35" fill="none" opacity="0.53"/>
<circle cx="35.03" cy="345.41" r="0.85" stroke="#ff8a14" stroke-width="0.35" fill="none" opacity="0.6"/>
<path d="M37.15 341.96V346.02M35.15 341.96h4M35.15 346.02h4" stroke="#ff8a14" stroke-width="0.35" fill="none" opacity="0.53"/>
<circle cx="37.15" cy="343.99" r="0.85" stroke="#ff8a14" stroke-width="0.35" fill="none" opacity="0.6"/>
<path d="M39.71 341.7V346.37M37.71 341.7h4M37.71 346.37h4" stroke="#ff8a14" stroke-width="0.35" fill="none" opacity="0.53"/>
<circle cx="39.71" cy="344.04" r="0.85" stroke="#ff8a14" stroke-width="0.35" fill="none" opacity="0.6"/>
<path d="M41.51 342.34V346.5M39.51 342.34h4M39.51 346.5h4" stroke="#ff8a14" stroke-width="0.35" fill="none" opacity="0.53"/>
<circle cx="41.51" cy="344.42" r="0.85" stroke="#ff8a14" stroke-width="0.35" fill="none" opacity="0.6"/>
<path d="M43.52 339.49V347.1M41.52 339.49h4M41.52 347.1h4" stroke="#ff8a14" stroke-width="0.35" fill="none" opacity="0.53"/>
<circle cx="43.52" cy="343.3" r="0.85" stroke="#ff8a14" stroke-width="0.35" fill="none" opacity="0.6"/>
<path d="M44.31 338.39V343.47M42.31 338.39h4M42.31 343.47h4" stroke="#ff8a14" stroke-width="0.35" fill="none" opacity="0.53"/>
<circle cx="44.31" cy="340.93" r="0.85" stroke="#ff8a14" stroke-width="0.35" fill="none" opacity="0.6"/>
<path d="M46.5 337.54V343.01M44.5 337.54h4M44.5 343.01h4" stroke="#ff8a14" stroke-width="0.35" fill="none" opacity="0.53"/>
<circle cx="46.5" cy="340.27" r="0.85" stroke="#ff8a14" stroke-width="0.35" fill="none" opacity="0.6"/>
<path d="M48.31 335.95V343.46M46.31 335.95h4M46.31 343.46h4" stroke="#ff8a14" stroke-width="0.35" fill="none" opacity="0.53"/>
<circle cx="48.31" cy="339.7" r="0.85" stroke="#ff8a14" stroke-width="0.35" fill="none" opacity="0.6"/>
<path d="M51.24 336.14V344.23M49.24 336.14h4M49.24 344.23h4" stroke="#ff8a14" stroke-width="0.35" fill="none" opacity="0.53"/>
<circle cx="51.24" cy="340.18" r="0.85" stroke="#ff8a14" stroke-width="0.35" fill="none" opacity="0.6"/>
<path d="M53.31 334.08V338.49M51.31 334.08h4M51.31 338.49h4" stroke="#ff8a14" stroke-width="0.35" fill="none" opacity="0.53"/>
<circle cx="53.31" cy="336.28" r="0.85" stroke="#ff8a14" stroke-width="0.35" fill="none" opacity="0.6"/>
<path d="M53.68 336.79V341.26M51.68 336.79h4M51.68 341.26h4" stroke="#ff8a14" stroke-width="0.35" fill="none" opacity="0.53"/>
<circle cx="53.68" cy="339.03" r="0.85" stroke="#ff8a14" stroke-width="0.35" fill="none" opacity="0.6"/>
<path d="M55.65 333.2V340.62M53.65 333.2h4M53.65 340.62h4" stroke="#ff8a14" stroke-width="0.35" fill="none" opacity="0.53"/>
<circle cx="55.65" cy="336.91" r="0.85" stroke="#ff8a14" stroke-width="0.35" fill="none" opacity="0.6"/>
<path d="M57.68 336.12V340.83M55.68 336.12h4M55.68 340.83h4" stroke="#ff8a14" stroke-width="0.35" fill="none" opacity="0.53"/>
<circle cx="57.68" cy="338.47" r="0.85" stroke="#ff8a14" stroke-width="0.35" fill="none" opacity="0.6"/>
<path d="M59.6 338.42V344.62M57.6 338.42h4M57.6 344.62h4" stroke="#ff8a14" stroke-width="0.35" fill="none" opacity="0.53"/>
<circle cx="59.6" cy="341.52" r="0.85" stroke="#ff8a14" stroke-width="0.35" fill="none" opacity="0.6"/>
<path d="M62.01 333.99V338.64M60.01 333.99h4M60.01 338.64h4" stroke="#ff8a14" stroke-width="0.35" fill="none" opacity="0.53"/>
<circle cx="62.01" cy="336.31" r="0.85" stroke="#ff8a14" stroke-width="0.35" fill="none" opacity="0.6"/>
<path d="M24.74 362.99V368.19M23.04 362.99h3.4M23.04 368.19h3.4" stroke="#14851e" stroke-width="0.35" fill="none" opacity="0.53"/>
<circle cx="24.74" cy="365.59" r="0.85" stroke="#14851e" stroke-width="0.35" fill="none" opacity="0.6"/>
<path d="M21.19 358.57V362.2M19.49 358.57h3.4M19.49 362.2h3.4" stroke="#14851e" stroke-width="0.35" fill="none" opacity="0.53"/>
<circle cx="21.19" cy="360.39" r="0.85" stroke="#14851e" stroke-width="0.35" fill="none" opacity="0.6"/>
<path d="M24.63 360.1V363.28M22.93 360.1h3.4M22.93 363.28h3.4" stroke="#14851e" stroke-width="0.35" fill="none" opacity="0.53"/>
<circle cx="24.63" cy="361.69" r="0.85" stroke="#14851e" stroke-width="0.35" fill="none" opacity="0.6"/>
<path d="M27.73 360.4V363.6M26.03 360.4h3.4M26.03 363.6h3.4" stroke="#14851e" stroke-width="0.35" fill="none" opacity="0.53"/>
<circle cx="27.73" cy="362" r="0.85" stroke="#14851e" stroke-width="0.35" fill="none" opacity="0.6"/>
<path d="M26.94 356.34V361.24M25.24 356.34h3.4M25.24 361.24h3.4" stroke="#14851e" stroke-width="0.35" fill="none" opacity="0.53"/>
<circle cx="26.94" cy="358.79" r="0.85" stroke="#14851e" stroke-width="0.35" fill="none" opacity="0.6"/>
<path d="M25.79 357.05V360.99M24.09 357.05h3.4M24.09 360.99h3.4" stroke="#14851e" stroke-width="0.35" fill="none" opacity="0.53"/>
<circle cx="25.79" cy="359.02" r="0.85" stroke="#14851e" stroke-width="0.35" fill="none" opacity="0.6"/>
<path d="M22.8 358.84V361.72M21.1 358.84h3.4M21.1 361.72h3.4" stroke="#14851e" stroke-width="0.35" fill="none" opacity="0.53"/>
<circle cx="22.8" cy="360.28" r="0.85" stroke="#14851e" stroke-width="0.35" fill="none" opacity="0.6"/>
<path d="M23.52 357.28V361.69M21.82 357.28h3.4M21.82 361.69h3.4" stroke="#14851e" stroke-width="0.35" fill="none" opacity="0.53"/>
<circle cx="23.52" cy="359.48" r="0.85" stroke="#14851e" stroke-width="0.35" fill="none" opacity="0.6"/>
<path d="M22.15 361.82V366.47M20.45 361.82h3.4M20.45 366.47h3.4" stroke="#14851e" stroke-width="0.35" fill="none" opacity="0.53"/>
<circle cx="22.15" cy="364.14" r="0.85" stroke="#14851e" stroke-width="0.35" fill="none" opacity="0.6"/>
<path d="M27.55 357.6V361.53M25.85 357.6h3.4M25.85 361.53h3.4" stroke="#14851e" stroke-width="0.35" fill="none" opacity="0.53"/>
<circle cx="27.55" cy="359.56" r="0.85" stroke="#14851e" stroke-width="0.35" fill="none" opacity="0.6"/>
<path d="M28.92 360.1V363.65M27.22 360.1h3.4M27.22 363.65h3.4" stroke="#14851e" stroke-width="0.35" fill="none" opacity="0.53"/>
<circle cx="28.92" cy="361.88" r="0.85" stroke="#14851e" stroke-width="0.35" fill="none" opacity="0.6"/>
<path d="M31.17 360.32V365.11M29.47 360.32h3.4M29.47 365.11h3.4" stroke="#14851e" stroke-width="0.35" fill="none" opacity="0.53"/>
<circle cx="31.17" cy="362.71" r="0.85" stroke="#14851e" stroke-width="0.35" fill="none" opacity="0.6"/>
<path d="M32.16 359.77V363.5M30.46 359.77h3.4M30.46 363.5h3.4" stroke="#14851e" stroke-width="0.35" fill="none" opacity="0.53"/>
<circle cx="32.16" cy="361.63" r="0.85" stroke="#14851e" stroke-width="0.35" fill="none" opacity="0.6"/>
<path d="M33.77 357.01V362.19M32.07 357.01h3.4M32.07 362.19h3.4" stroke="#14851e" stroke-width="0.35" fill="none" opacity="0.53"/>
<circle cx="33.77" cy="359.6" r="0.85" stroke="#14851e" stroke-width="0.35" fill="none" opacity="0.6"/>
<path d="M36.63 357.71V360.71M34.93 357.71h3.4M34.93 360.71h3.4" stroke="#14851e" stroke-width="0.35" fill="none" opacity="0.53"/>
<circle cx="36.63" cy="359.21" r="0.85" stroke="#14851e" stroke-width="0.35" fill="none" opacity="0.6"/>
<path d="M38.75 356.54V359.6M37.05 356.54h3.4M37.05 359.6h3.4" stroke="#14851e" stroke-width="0.35" fill="none" opacity="0.53"/>
<circle cx="38.75" cy="358.07" r="0.85" stroke="#14851e" stroke-width="0.35" fill="none" opacity="0.6"/>
<path d="M40.31 359.42V362.47M38.61 359.42h3.4M38.61 362.47h3.4" stroke="#14851e" stroke-width="0.35" fill="none" opacity="0.53"/>
<circle cx="40.31" cy="360.95" r="0.85" stroke="#14851e" stroke-width="0.35" fill="none" opacity="0.6"/>
<path d="M42.03 354.43V359.29M40.33 354.43h3.4M40.33 359.29h3.4" stroke="#14851e" stroke-width="0.35" fill="none" opacity="0.53"/>
<circle cx="42.03" cy="356.86" r="0.85" stroke="#14851e" stroke-width="0.35" fill="none" opacity="0.6"/>
<path d="M43.85 358.45V362.04M42.15 358.45h3.4M42.15 362.04h3.4" stroke="#14851e" stroke-width="0.35" fill="none" opacity="0.53"/>
<circle cx="43.85" cy="360.25" r="0.85" stroke="#14851e" stroke-width="0.35" fill="none" opacity="0.6"/>
<path d="M45.51 355.44V359.56M43.81 355.44h3.4M43.81 359.56h3.4" stroke="#14851e" stroke-width="0.35" fill="none" opacity="0.53"/>
<circle cx="45.51" cy="357.5" r="0.85" stroke="#14851e" stroke-width="0.35" fill="none" opacity="0.6"/>
<path d="M46.39 355.17V360.41M44.69 355.17h3.4M44.69 360.41h3.4" stroke="#14851e" stroke-width="0.35" fill="none" opacity="0.53"/>
<circle cx="46.39" cy="357.79" r="0.85" stroke="#14851e" stroke-width="0.35" fill="none" opacity="0.6"/>
<path d="M48.72 355.19V359.58M47.02 355.19h3.4M47.02 359.58h3.4" stroke="#14851e" stroke-width="0.35" fill="none" opacity="0.53"/>
<circle cx="48.72" cy="357.39" r="0.85" stroke="#14851e" stroke-width="0.35" fill="none" opacity="0.6"/>
<path d="M50.23 351.58V355.39M48.53 351.58h3.4M48.53 355.39h3.4" stroke="#14851e" stroke-width="0.35" fill="none" opacity="0.53"/>
<circle cx="50.23" cy="353.49" r="0.85" stroke="#14851e" stroke-width="0.35" fill="none" opacity="0.6"/>
<path d="M51.44 353.65V358.63M49.74 353.65h3.4M49.74 358.63h3.4" stroke="#14851e" stroke-width="0.35" fill="none" opacity="0.53"/>
<circle cx="51.44" cy="356.14" r="0.85" stroke="#14851e" stroke-width="0.35" fill="none" opacity="0.6"/>
<path d="M53.24 355.21V358.54M51.54 355.21h3.4M51.54 358.54h3.4" stroke="#14851e" stroke-width="0.35" fill="none" opacity="0.53"/>
<circle cx="53.24" cy="356.87" r="0.85" stroke="#14851e" stroke-width="0.35" fill="none" opacity="0.6"/>
<path d="M55.49 353.36V356.8M53.79 353.36h3.4M53.79 356.8h3.4" stroke="#14851e" stroke-width="0.35" fill="none" opacity="0.53"/>
<circle cx="55.49" cy="355.08" r="0.85" stroke="#14851e" stroke-width="0.35" fill="none" opacity="0.6"/>
<path d="M57.26 354.12V357.47M55.56 354.12h3.4M55.56 357.47h3.4" stroke="#14851e" stroke-width="0.35" fill="none" opacity="0.53"/>
<circle cx="57.26" cy="355.8" r="0.85" stroke="#14851e" stroke-width="0.35" fill="none" opacity="0.6"/>
<path d="M59.84 355.32V359.1M58.14 355.32h3.4M58.14 359.1h3.4" stroke="#14851e" stroke-width="0.35" fill="none" opacity="0.53"/>
<circle cx="59.84" cy="357.21" r="0.85" stroke="#14851e" stroke-width="0.35" fill="none" opacity="0.6"/>
<path d="M62.12 355.25V358.85M60.42 355.25h3.4M60.42 358.85h3.4" stroke="#14851e" stroke-width="0.35" fill="none" opacity="0.53"/>
<circle cx="62.12" cy="357.05" r="0.85" stroke="#14851e" stroke-width="0.35" fill="none" opacity="0.6"/>
<path d="M63 355.13V359.01M61.3 355.13h3.4M61.3 359.01h3.4" stroke="#14851e" stroke-width="0.35" fill="none" opacity="0.53"/>
<circle cx="63" cy="357.07" r="0.85" stroke="#14851e" stroke-width="0.35" fill="none" opacity="0.6"/>
<path d="M20.5 380.58L66 375.26" stroke="#179090" stroke-width="4.2" opacity="0.12"/>
<path d="M24.75 377.78V381.2M23.05 377.78h3.4M23.05 381.2h3.4" stroke="#179090" stroke-width="0.35" fill="none" opacity="0.4"/>
<circle cx="24.75" cy="379.49" r="0.85" stroke="#179090" stroke-width="0.35" fill="none" opacity="0.46"/>
<path d="M27.08 377.08V380.66M25.38 377.08h3.4M25.38 380.66h3.4" stroke="#179090" stroke-width="0.35" fill="none" opacity="0.4"/>
<circle cx="27.08" cy="378.87" r="0.85" stroke="#179090" stroke-width="0.35" fill="none" opacity="0.46"/>
<path d="M23.56 379.89V382.43M21.86 379.89h3.4M21.86 382.43h3.4" stroke="#179090" stroke-width="0.35" fill="none" opacity="0.4"/>
<circle cx="23.56" cy="381.16" r="0.85" stroke="#179090" stroke-width="0.35" fill="none" opacity="0.46"/>
<path d="M27.18 383.29V386M25.48 383.29h3.4M25.48 386h3.4" stroke="#179090" stroke-width="0.35" fill="none" opacity="0.4"/>
<circle cx="27.18" cy="384.65" r="0.85" stroke="#179090" stroke-width="0.35" fill="none" opacity="0.46"/>
<path d="M24.15 382.87V384.98M22.45 382.87h3.4M22.45 384.98h3.4" stroke="#179090" stroke-width="0.35" fill="none" opacity="0.4"/>
<circle cx="24.15" cy="383.93" r="0.85" stroke="#179090" stroke-width="0.35" fill="none" opacity="0.46"/>
<path d="M24.37 378.58V381.19M22.67 378.58h3.4M22.67 381.19h3.4" stroke="#179090" stroke-width="0.35" fill="none" opacity="0.4"/>
<circle cx="24.37" cy="379.89" r="0.85" stroke="#179090" stroke-width="0.35" fill="none" opacity="0.46"/>
<path d="M26.38 376.99V379.17M24.68 376.99h3.4M24.68 379.17h3.4" stroke="#179090" stroke-width="0.35" fill="none" opacity="0.4"/>
<circle cx="26.38" cy="378.08" r="0.85" stroke="#179090" stroke-width="0.35" fill="none" opacity="0.46"/>
<path d="M26.78 378.47V380.87M25.08 378.47h3.4M25.08 380.87h3.4" stroke="#179090" stroke-width="0.35" fill="none" opacity="0.4"/>
<circle cx="26.78" cy="379.67" r="0.85" stroke="#179090" stroke-width="0.35" fill="none" opacity="0.46"/>
<path d="M27.91 378.23V381.06M26.21 378.23h3.4M26.21 381.06h3.4" stroke="#179090" stroke-width="0.35" fill="none" opacity="0.4"/>
<circle cx="27.91" cy="379.64" r="0.85" stroke="#179090" stroke-width="0.35" fill="none" opacity="0.46"/>
<path d="M28.51 377.94V380.56M26.81 377.94h3.4M26.81 380.56h3.4" stroke="#179090" stroke-width="0.35" fill="none" opacity="0.4"/>
<circle cx="28.51" cy="379.25" r="0.85" stroke="#179090" stroke-width="0.35" fill="none" opacity="0.46"/>
<path d="M29.17 379.87V382.83M27.47 379.87h3.4M27.47 382.83h3.4" stroke="#179090" stroke-width="0.35" fill="none" opacity="0.4"/>
<circle cx="29.17" cy="381.35" r="0.85" stroke="#179090" stroke-width="0.35" fill="none" opacity="0.46"/>
<path d="M30.6 378.23V380.98M28.9 378.23h3.4M28.9 380.98h3.4" stroke="#179090" stroke-width="0.35" fill="none" opacity="0.4"/>
<circle cx="30.6" cy="379.6" r="0.85" stroke="#179090" stroke-width="0.35" fill="none" opacity="0.46"/>
<path d="M30.9 383.07V386.32M29.2 383.07h3.4M29.2 386.32h3.4" stroke="#179090" stroke-width="0.35" fill="none" opacity="0.4"/>
<circle cx="30.9" cy="384.7" r="0.85" stroke="#179090" stroke-width="0.35" fill="none" opacity="0.46"/>
<path d="M31.94 379.73V383.32M30.24 379.73h3.4M30.24 383.32h3.4" stroke="#179090" stroke-width="0.35" fill="none" opacity="0.4"/>
<circle cx="31.94" cy="381.52" r="0.85" stroke="#179090" stroke-width="0.35" fill="none" opacity="0.46"/>
<path d="M32.95 379.42V381.31M31.25 379.42h3.4M31.25 381.31h3.4" stroke="#179090" stroke-width="0.35" fill="none" opacity="0.4"/>
<circle cx="32.95" cy="380.37" r="0.85" stroke="#179090" stroke-width="0.35" fill="none" opacity="0.46"/>
<path d="M33.61 378.39V381.63M31.91 378.39h3.4M31.91 381.63h3.4" stroke="#179090" stroke-width="0.35" fill="none" opacity="0.4"/>
<circle cx="33.61" cy="380.01" r="0.85" stroke="#179090" stroke-width="0.35" fill="none" opacity="0.46"/>
<path d="M34.23 377.54V380.13M32.53 377.54h3.4M32.53 380.13h3.4" stroke="#179090" stroke-width="0.35" fill="none" opacity="0.4"/>
<circle cx="34.23" cy="378.84" r="0.85" stroke="#179090" stroke-width="0.35" fill="none" opacity="0.46"/>
<path d="M35.18 378.17V381.65M33.48 378.17h3.4M33.48 381.65h3.4" stroke="#179090" stroke-width="0.35" fill="none" opacity="0.4"/>
<circle cx="35.18" cy="379.91" r="0.85" stroke="#179090" stroke-width="0.35" fill="none" opacity="0.46"/>
<path d="M36.01 378.37V380.46M34.31 378.37h3.4M34.31 380.46h3.4" stroke="#179090" stroke-width="0.35" fill="none" opacity="0.4"/>
<circle cx="36.01" cy="379.41" r="0.85" stroke="#179090" stroke-width="0.35" fill="none" opacity="0.46"/>
<path d="M37 375.5V378.99M35.3 375.5h3.4M35.3 378.99h3.4" stroke="#179090" stroke-width="0.35" fill="none" opacity="0.4"/>
<circle cx="37" cy="377.25" r="0.85" stroke="#179090" stroke-width="0.35" fill="none" opacity="0.46"/>
<path d="M37.26 374.82V376.81M35.56 374.82h3.4M35.56 376.81h3.4" stroke="#179090" stroke-width="0.35" fill="none" opacity="0.4"/>
<circle cx="37.26" cy="375.81" r="0.85" stroke="#179090" stroke-width="0.35" fill="none" opacity="0.46"/>
<path d="M38.42 376.19V378.11M36.72 376.19h3.4M36.72 378.11h3.4" stroke="#179090" stroke-width="0.35" fill="none" opacity="0.4"/>
<circle cx="38.42" cy="377.15" r="0.85" stroke="#179090" stroke-width="0.35" fill="none" opacity="0.46"/>
<path d="M38.97 376.65V378.6M37.27 376.65h3.4M37.27 378.6h3.4" stroke="#179090" stroke-width="0.35" fill="none" opacity="0.4"/>
<circle cx="38.97" cy="377.62" r="0.85" stroke="#179090" stroke-width="0.35" fill="none" opacity="0.46"/>
<path d="M39.8 374.61V378.14M38.1 374.61h3.4M38.1 378.14h3.4" stroke="#179090" stroke-width="0.35" fill="none" opacity="0.4"/>
<circle cx="39.8" cy="376.37" r="0.85" stroke="#179090" stroke-width="0.35" fill="none" opacity="0.46"/>
<path d="M40.99 374.81V376.78M39.29 374.81h3.4M39.29 376.78h3.4" stroke="#179090" stroke-width="0.35" fill="none" opacity="0.4"/>
<circle cx="40.99" cy="375.79" r="0.85" stroke="#179090" stroke-width="0.35" fill="none" opacity="0.46"/>
<path d="M41.58 373.73V377.11M39.88 373.73h3.4M39.88 377.11h3.4" stroke="#179090" stroke-width="0.35" fill="none" opacity="0.4"/>
<circle cx="41.58" cy="375.42" r="0.85" stroke="#179090" stroke-width="0.35" fill="none" opacity="0.46"/>
<path d="M42.43 380.33V382.98M40.73 380.33h3.4M40.73 382.98h3.4" stroke="#179090" stroke-width="0.35" fill="none" opacity="0.4"/>
<circle cx="42.43" cy="381.66" r="0.85" stroke="#179090" stroke-width="0.35" fill="none" opacity="0.46"/>
<path d="M43.39 378.3V380.74M41.69 378.3h3.4M41.69 380.74h3.4" stroke="#179090" stroke-width="0.35" fill="none" opacity="0.4"/>
<circle cx="43.39" cy="379.52" r="0.85" stroke="#179090" stroke-width="0.35" fill="none" opacity="0.46"/>
<path d="M44.31 372.32V374.63M42.61 372.32h3.4M42.61 374.63h3.4" stroke="#179090" stroke-width="0.35" fill="none" opacity="0.4"/>
<circle cx="44.31" cy="373.47" r="0.85" stroke="#179090" stroke-width="0.35" fill="none" opacity="0.46"/>
<path d="M44.73 375.22V377.28M43.03 375.22h3.4M43.03 377.28h3.4" stroke="#179090" stroke-width="0.35" fill="none" opacity="0.4"/>
<circle cx="44.73" cy="376.25" r="0.85" stroke="#179090" stroke-width="0.35" fill="none" opacity="0.46"/>
<path d="M45.67 375.17V377.19M43.97 375.17h3.4M43.97 377.19h3.4" stroke="#179090" stroke-width="0.35" fill="none" opacity="0.4"/>
<circle cx="45.67" cy="376.18" r="0.85" stroke="#179090" stroke-width="0.35" fill="none" opacity="0.46"/>
<path d="M46.38 376.25V378.36M44.68 376.25h3.4M44.68 378.36h3.4" stroke="#179090" stroke-width="0.35" fill="none" opacity="0.4"/>
<circle cx="46.38" cy="377.3" r="0.85" stroke="#179090" stroke-width="0.35" fill="none" opacity="0.46"/>
<path d="M47.19 377.54V379.93M45.49 377.54h3.4M45.49 379.93h3.4" stroke="#179090" stroke-width="0.35" fill="none" opacity="0.4"/>
<circle cx="47.19" cy="378.73" r="0.85" stroke="#179090" stroke-width="0.35" fill="none" opacity="0.46"/>
<path d="M48.14 376.58V378.95M46.44 376.58h3.4M46.44 378.95h3.4" stroke="#179090" stroke-width="0.35" fill="none" opacity="0.4"/>
<circle cx="48.14" cy="377.76" r="0.85" stroke="#179090" stroke-width="0.35" fill="none" opacity="0.46"/>
<path d="M48.74 376.01V378.74M47.04 376.01h3.4M47.04 378.74h3.4" stroke="#179090" stroke-width="0.35" fill="none" opacity="0.4"/>
<circle cx="48.74" cy="377.37" r="0.85" stroke="#179090" stroke-width="0.35" fill="none" opacity="0.46"/>
<path d="M49.61 374.45V376.59M47.91 374.45h3.4M47.91 376.59h3.4" stroke="#179090" stroke-width="0.35" fill="none" opacity="0.4"/>
<circle cx="49.61" cy="375.52" r="0.85" stroke="#179090" stroke-width="0.35" fill="none" opacity="0.46"/>
<path d="M50.37 375.73V378M48.67 375.73h3.4M48.67 378h3.4" stroke="#179090" stroke-width="0.35" fill="none" opacity="0.4"/>
<circle cx="50.37" cy="376.87" r="0.85" stroke="#179090" stroke-width="0.35" fill="none" opacity="0.46"/>
<path d="M51.54 376.34V378.19M49.84 376.34h3.4M49.84 378.19h3.4" stroke="#179090" stroke-width="0.35" fill="none" opacity="0.4"/>
<circle cx="51.54" cy="377.26" r="0.85" stroke="#179090" stroke-width="0.35" fill="none" opacity="0.46"/>
<path d="M52.15 375.53V377.69M50.45 375.53h3.4M50.45 377.69h3.4" stroke="#179090" stroke-width="0.35" fill="none" opacity="0.4"/>
<circle cx="52.15" cy="376.61" r="0.85" stroke="#179090" stroke-width="0.35" fill="none" opacity="0.46"/>
<path d="M53.09 372.91V375.59M51.39 372.91h3.4M51.39 375.59h3.4" stroke="#179090" stroke-width="0.35" fill="none" opacity="0.4"/>
<circle cx="53.09" cy="374.25" r="0.85" stroke="#179090" stroke-width="0.35" fill="none" opacity="0.46"/>
<path d="M53.94 375.88V379.19M52.24 375.88h3.4M52.24 379.19h3.4" stroke="#179090" stroke-width="0.35" fill="none" opacity="0.4"/>
<circle cx="53.94" cy="377.54" r="0.85" stroke="#179090" stroke-width="0.35" fill="none" opacity="0.46"/>
<path d="M54.2 374.96V377.56M52.5 374.96h3.4M52.5 377.56h3.4" stroke="#179090" stroke-width="0.35" fill="none" opacity="0.4"/>
<circle cx="54.2" cy="376.26" r="0.85" stroke="#179090" stroke-width="0.35" fill="none" opacity="0.46"/>
<path d="M55.24 371.46V373.99M53.54 371.46h3.4M53.54 373.99h3.4" stroke="#179090" stroke-width="0.35" fill="none" opacity="0.4"/>
<circle cx="55.24" cy="372.72" r="0.85" stroke="#179090" stroke-width="0.35" fill="none" opacity="0.46"/>
<path d="M56.34 375.13V377.88M54.64 375.13h3.4M54.64 377.88h3.4" stroke="#179090" stroke-width="0.35" fill="none" opacity="0.4"/>
<circle cx="56.34" cy="376.5" r="0.85" stroke="#179090" stroke-width="0.35" fill="none" opacity="0.46"/>
<path d="M57.06 372.91V375.35M55.36 372.91h3.4M55.36 375.35h3.4" stroke="#179090" stroke-width="0.35" fill="none" opacity="0.4"/>
<circle cx="57.06" cy="374.13" r="0.85" stroke="#179090" stroke-width="0.35" fill="none" opacity="0.46"/>
<path d="M57.3 369.35V372.68M55.6 369.35h3.4M55.6 372.68h3.4" stroke="#179090" stroke-width="0.35" fill="none" opacity="0.4"/>
<circle cx="57.3" cy="371.02" r="0.85" stroke="#179090" stroke-width="0.35" fill="none" opacity="0.46"/>
<path d="M58.09 374.14V376.7M56.39 374.14h3.4M56.39 376.7h3.4" stroke="#179090" stroke-width="0.35" fill="none" opacity="0.4"/>
<circle cx="58.09" cy="375.42" r="0.85" stroke="#179090" stroke-width="0.35" fill="none" opacity="0.46"/>
<path d="M59.15 372.09V374.54M57.45 372.09h3.4M57.45 374.54h3.4" stroke="#179090" stroke-width="0.35" fill="none" opacity="0.4"/>
<circle cx="59.15" cy="373.32" r="0.85" stroke="#179090" stroke-width="0.35" fill="none" opacity="0.46"/>
<path d="M59.65 376.02V377.97M57.95 376.02h3.4M57.95 377.97h3.4" stroke="#179090" stroke-width="0.35" fill="none" opacity="0.4"/>
<circle cx="59.65" cy="376.99" r="0.85" stroke="#179090" stroke-width="0.35" fill="none" opacity="0.46"/>
<path d="M60.59 374.66V377.83M58.89 374.66h3.4M58.89 377.83h3.4" stroke="#179090" stroke-width="0.35" fill="none" opacity="0.4"/>
<circle cx="60.59" cy="376.24" r="0.85" stroke="#179090" stroke-width="0.35" fill="none" opacity="0.46"/>
<path d="M61.25 374.78V376.76M59.55 374.78h3.4M59.55 376.76h3.4" stroke="#179090" stroke-width="0.35" fill="none" opacity="0.4"/>
<circle cx="61.25" cy="375.77" r="0.85" stroke="#179090" stroke-width="0.35" fill="none" opacity="0.46"/>
<path d="M62.53 375.18V378.53M60.83 375.18h3.4M60.83 378.53h3.4" stroke="#179090" stroke-width="0.35" fill="none" opacity="0.4"/>
<circle cx="62.53" cy="376.85" r="0.85" stroke="#179090" stroke-width="0.35" fill="none" opacity="0.46"/>
<path d="M63.42 376.44V378.77M61.72 376.44h3.4M61.72 378.77h3.4" stroke="#179090" stroke-width="0.35" fill="none" opacity="0.4"/>
<circle cx="63.42" cy="377.6" r="0.85" stroke="#179090" stroke-width="0.35" fill="none" opacity="0.46"/>
<path d="M64.32 372.16V374.42M62.62 372.16h3.4M62.62 374.42h3.4" stroke="#179090" stroke-width="0.35" fill="none" opacity="0.4"/>
<circle cx="64.32" cy="373.29" r="0.85" stroke="#179090" stroke-width="0.35" fill="none" opacity="0.46"/>
<path d="M64.52 373.78V375.89M62.82 373.78h3.4M62.82 375.89h3.4" stroke="#179090" stroke-width="0.35" fill="none" opacity="0.4"/>
<circle cx="64.52" cy="374.84" r="0.85" stroke="#179090" stroke-width="0.35" fill="none" opacity="0.46"/>
<path d="M65.77 376.1V378.74M64.07 376.1h3.4M64.07 378.74h3.4" stroke="#179090" stroke-width="0.35" fill="none" opacity="0.4"/>
<circle cx="65.77" cy="377.42" r="0.85" stroke="#179090" stroke-width="0.35" fill="none" opacity="0.46"/>
<path d="M17.5 397.51L66.5 392.63" stroke="#1a1af0" stroke-width="3.0" opacity="0.13"/>
<path d="M19.56 396.86V398.01M18.36 396.86h2.4M18.36 398.01h2.4" stroke="#1a1af0" stroke-width="0.35" fill="none" opacity="0.25"/>
<circle cx="19.56" cy="397.44" r="0.85" stroke="#1a1af0" stroke-width="0.35" fill="none" opacity="0.28"/>
<path d="M25.04 395.14V395.9M23.84 395.14h2.4M23.84 395.9h2.4" stroke="#1a1af0" stroke-width="0.35" fill="none" opacity="0.25"/>
<circle cx="25.04" cy="395.52" r="0.85" stroke="#1a1af0" stroke-width="0.35" fill="none" opacity="0.28"/>
<path d="M25.13 396.55V397.77M23.93 396.55h2.4M23.93 397.77h2.4" stroke="#1a1af0" stroke-width="0.35" fill="none" opacity="0.25"/>
<circle cx="25.13" cy="397.16" r="0.85" stroke="#1a1af0" stroke-width="0.35" fill="none" opacity="0.28"/>
<path d="M21.79 397.18V398.09M20.59 397.18h2.4M20.59 398.09h2.4" stroke="#1a1af0" stroke-width="0.35" fill="none" opacity="0.25"/>
<circle cx="21.79" cy="397.63" r="0.85" stroke="#1a1af0" stroke-width="0.35" fill="none" opacity="0.28"/>
<path d="M19.42 396.82V397.56M18.22 396.82h2.4M18.22 397.56h2.4" stroke="#1a1af0" stroke-width="0.35" fill="none" opacity="0.25"/>
<circle cx="19.42" cy="397.19" r="0.85" stroke="#1a1af0" stroke-width="0.35" fill="none" opacity="0.28"/>
<path d="M25.07 396.25V397.14M23.87 396.25h2.4M23.87 397.14h2.4" stroke="#1a1af0" stroke-width="0.35" fill="none" opacity="0.25"/>
<circle cx="25.07" cy="396.7" r="0.85" stroke="#1a1af0" stroke-width="0.35" fill="none" opacity="0.28"/>
<path d="M19.93 396.03V397.2M18.73 396.03h2.4M18.73 397.2h2.4" stroke="#1a1af0" stroke-width="0.35" fill="none" opacity="0.25"/>
<circle cx="19.93" cy="396.62" r="0.85" stroke="#1a1af0" stroke-width="0.35" fill="none" opacity="0.28"/>
<path d="M20.3 395.56V396.46M19.1 395.56h2.4M19.1 396.46h2.4" stroke="#1a1af0" stroke-width="0.35" fill="none" opacity="0.25"/>
<circle cx="20.3" cy="396.01" r="0.85" stroke="#1a1af0" stroke-width="0.35" fill="none" opacity="0.28"/>
<path d="M17.51 395.99V397.02M16.31 395.99h2.4M16.31 397.02h2.4" stroke="#1a1af0" stroke-width="0.35" fill="none" opacity="0.25"/>
<circle cx="17.51" cy="396.51" r="0.85" stroke="#1a1af0" stroke-width="0.35" fill="none" opacity="0.28"/>
<path d="M23.61 396.4V397.19M22.41 396.4h2.4M22.41 397.19h2.4" stroke="#1a1af0" stroke-width="0.35" fill="none" opacity="0.25"/>
<circle cx="23.61" cy="396.8" r="0.85" stroke="#1a1af0" stroke-width="0.35" fill="none" opacity="0.28"/>
<path d="M24.28 396.61V398M23.08 396.61h2.4M23.08 398h2.4" stroke="#1a1af0" stroke-width="0.35" fill="none" opacity="0.25"/>
<circle cx="24.28" cy="397.31" r="0.85" stroke="#1a1af0" stroke-width="0.35" fill="none" opacity="0.28"/>
<path d="M24.9 395.72V397.08M23.7 395.72h2.4M23.7 397.08h2.4" stroke="#1a1af0" stroke-width="0.35" fill="none" opacity="0.25"/>
<circle cx="24.9" cy="396.4" r="0.85" stroke="#1a1af0" stroke-width="0.35" fill="none" opacity="0.28"/>
<path d="M25.32 397.08V398.36M24.12 397.08h2.4M24.12 398.36h2.4" stroke="#1a1af0" stroke-width="0.35" fill="none" opacity="0.25"/>
<circle cx="25.32" cy="397.72" r="0.85" stroke="#1a1af0" stroke-width="0.35" fill="none" opacity="0.28"/>
<path d="M26.12 396.07V397.45M24.92 396.07h2.4M24.92 397.45h2.4" stroke="#1a1af0" stroke-width="0.35" fill="none" opacity="0.25"/>
<circle cx="26.12" cy="396.76" r="0.85" stroke="#1a1af0" stroke-width="0.35" fill="none" opacity="0.28"/>
<path d="M26.42 395.52V396.37M25.22 395.52h2.4M25.22 396.37h2.4" stroke="#1a1af0" stroke-width="0.35" fill="none" opacity="0.25"/>
<circle cx="26.42" cy="395.94" r="0.85" stroke="#1a1af0" stroke-width="0.35" fill="none" opacity="0.28"/>
<path d="M27.18 396.09V397.45M25.98 396.09h2.4M25.98 397.45h2.4" stroke="#1a1af0" stroke-width="0.35" fill="none" opacity="0.25"/>
<circle cx="27.18" cy="396.77" r="0.85" stroke="#1a1af0" stroke-width="0.35" fill="none" opacity="0.28"/>
<path d="M27.69 396.39V397.18M26.49 396.39h2.4M26.49 397.18h2.4" stroke="#1a1af0" stroke-width="0.35" fill="none" opacity="0.25"/>
<circle cx="27.69" cy="396.78" r="0.85" stroke="#1a1af0" stroke-width="0.35" fill="none" opacity="0.28"/>
<path d="M28.48 397.03V398.1M27.28 397.03h2.4M27.28 398.1h2.4" stroke="#1a1af0" stroke-width="0.35" fill="none" opacity="0.25"/>
<circle cx="28.48" cy="397.57" r="0.85" stroke="#1a1af0" stroke-width="0.35" fill="none" opacity="0.28"/>
<path d="M28.87 396.2V397.47M27.67 396.2h2.4M27.67 397.47h2.4" stroke="#1a1af0" stroke-width="0.35" fill="none" opacity="0.25"/>
<circle cx="28.87" cy="396.84" r="0.85" stroke="#1a1af0" stroke-width="0.35" fill="none" opacity="0.28"/>
<path d="M29.47 395.65V396.7M28.27 395.65h2.4M28.27 396.7h2.4" stroke="#1a1af0" stroke-width="0.35" fill="none" opacity="0.25"/>
<circle cx="29.47" cy="396.18" r="0.85" stroke="#1a1af0" stroke-width="0.35" fill="none" opacity="0.28"/>
<path d="M30.25 396.87V397.73M29.05 396.87h2.4M29.05 397.73h2.4" stroke="#1a1af0" stroke-width="0.35" fill="none" opacity="0.25"/>
<circle cx="30.25" cy="397.3" r="0.85" stroke="#1a1af0" stroke-width="0.35" fill="none" opacity="0.28"/>
<path d="M30.81 394.6V395.93M29.61 394.6h2.4M29.61 395.93h2.4" stroke="#1a1af0" stroke-width="0.35" fill="none" opacity="0.25"/>
<circle cx="30.81" cy="395.27" r="0.85" stroke="#1a1af0" stroke-width="0.35" fill="none" opacity="0.28"/>
<path d="M31.63 395.55V396.25M30.43 395.55h2.4M30.43 396.25h2.4" stroke="#1a1af0" stroke-width="0.35" fill="none" opacity="0.25"/>
<circle cx="31.63" cy="395.9" r="0.85" stroke="#1a1af0" stroke-width="0.35" fill="none" opacity="0.28"/>
<path d="M32.2 395.54V396.58M31 395.54h2.4M31 396.58h2.4" stroke="#1a1af0" stroke-width="0.35" fill="none" opacity="0.25"/>
<circle cx="32.2" cy="396.06" r="0.85" stroke="#1a1af0" stroke-width="0.35" fill="none" opacity="0.28"/>
<path d="M32.95 394.84V395.64M31.75 394.84h2.4M31.75 395.64h2.4" stroke="#1a1af0" stroke-width="0.35" fill="none" opacity="0.25"/>
<circle cx="32.95" cy="395.24" r="0.85" stroke="#1a1af0" stroke-width="0.35" fill="none" opacity="0.28"/>
<path d="M33.5 395.68V396.62M32.3 395.68h2.4M32.3 396.62h2.4" stroke="#1a1af0" stroke-width="0.35" fill="none" opacity="0.25"/>
<circle cx="33.5" cy="396.15" r="0.85" stroke="#1a1af0" stroke-width="0.35" fill="none" opacity="0.28"/>
<path d="M34.14 394.81V395.51M32.94 394.81h2.4M32.94 395.51h2.4" stroke="#1a1af0" stroke-width="0.35" fill="none" opacity="0.25"/>
<circle cx="34.14" cy="395.16" r="0.85" stroke="#1a1af0" stroke-width="0.35" fill="none" opacity="0.28"/>
<path d="M34.85 396.75V397.97M33.65 396.75h2.4M33.65 397.97h2.4" stroke="#1a1af0" stroke-width="0.35" fill="none" opacity="0.25"/>
<circle cx="34.85" cy="397.36" r="0.85" stroke="#1a1af0" stroke-width="0.35" fill="none" opacity="0.28"/>
<path d="M35.16 395.32V396.67M33.96 395.32h2.4M33.96 396.67h2.4" stroke="#1a1af0" stroke-width="0.35" fill="none" opacity="0.25"/>
<circle cx="35.16" cy="395.99" r="0.85" stroke="#1a1af0" stroke-width="0.35" fill="none" opacity="0.28"/>
<path d="M35.72 394.71V395.91M34.52 394.71h2.4M34.52 395.91h2.4" stroke="#1a1af0" stroke-width="0.35" fill="none" opacity="0.25"/>
<circle cx="35.72" cy="395.31" r="0.85" stroke="#1a1af0" stroke-width="0.35" fill="none" opacity="0.28"/>
<path d="M36.73 395.72V396.68M35.53 395.72h2.4M35.53 396.68h2.4" stroke="#1a1af0" stroke-width="0.35" fill="none" opacity="0.25"/>
<circle cx="36.73" cy="396.2" r="0.85" stroke="#1a1af0" stroke-width="0.35" fill="none" opacity="0.28"/>
<path d="M36.83 394.66V395.64M35.63 394.66h2.4M35.63 395.64h2.4" stroke="#1a1af0" stroke-width="0.35" fill="none" opacity="0.25"/>
<circle cx="36.83" cy="395.15" r="0.85" stroke="#1a1af0" stroke-width="0.35" fill="none" opacity="0.28"/>
<path d="M37.79 396.21V397.17M36.59 396.21h2.4M36.59 397.17h2.4" stroke="#1a1af0" stroke-width="0.35" fill="none" opacity="0.25"/>
<circle cx="37.79" cy="396.69" r="0.85" stroke="#1a1af0" stroke-width="0.35" fill="none" opacity="0.28"/>
<path d="M38.35 394.92V395.92M37.15 394.92h2.4M37.15 395.92h2.4" stroke="#1a1af0" stroke-width="0.35" fill="none" opacity="0.25"/>
<circle cx="38.35" cy="395.42" r="0.85" stroke="#1a1af0" stroke-width="0.35" fill="none" opacity="0.28"/>
<path d="M38.59 394.98V395.75M37.39 394.98h2.4M37.39 395.75h2.4" stroke="#1a1af0" stroke-width="0.35" fill="none" opacity="0.25"/>
<circle cx="38.59" cy="395.36" r="0.85" stroke="#1a1af0" stroke-width="0.35" fill="none" opacity="0.28"/>
<path d="M39.68 394.94V396.22M38.48 394.94h2.4M38.48 396.22h2.4" stroke="#1a1af0" stroke-width="0.35" fill="none" opacity="0.25"/>
<circle cx="39.68" cy="395.58" r="0.85" stroke="#1a1af0" stroke-width="0.35" fill="none" opacity="0.28"/>
<path d="M40.32 394.33V395.21M39.12 394.33h2.4M39.12 395.21h2.4" stroke="#1a1af0" stroke-width="0.35" fill="none" opacity="0.25"/>
<circle cx="40.32" cy="394.77" r="0.85" stroke="#1a1af0" stroke-width="0.35" fill="none" opacity="0.28"/>
<path d="M40.77 396.8V397.69M39.57 396.8h2.4M39.57 397.69h2.4" stroke="#1a1af0" stroke-width="0.35" fill="none" opacity="0.25"/>
<circle cx="40.77" cy="397.25" r="0.85" stroke="#1a1af0" stroke-width="0.35" fill="none" opacity="0.28"/>
<path d="M41.44 394.06V395.02M40.24 394.06h2.4M40.24 395.02h2.4" stroke="#1a1af0" stroke-width="0.35" fill="none" opacity="0.25"/>
<circle cx="41.44" cy="394.54" r="0.85" stroke="#1a1af0" stroke-width="0.35" fill="none" opacity="0.28"/>
<path d="M42.09 394.34V395.7M40.89 394.34h2.4M40.89 395.7h2.4" stroke="#1a1af0" stroke-width="0.35" fill="none" opacity="0.25"/>
<circle cx="42.09" cy="395.02" r="0.85" stroke="#1a1af0" stroke-width="0.35" fill="none" opacity="0.28"/>
<path d="M42.29 395.7V396.84M41.09 395.7h2.4M41.09 396.84h2.4" stroke="#1a1af0" stroke-width="0.35" fill="none" opacity="0.25"/>
<circle cx="42.29" cy="396.27" r="0.85" stroke="#1a1af0" stroke-width="0.35" fill="none" opacity="0.28"/>
<path d="M43.13 393.19V394.53M41.93 393.19h2.4M41.93 394.53h2.4" stroke="#1a1af0" stroke-width="0.35" fill="none" opacity="0.25"/>
<circle cx="43.13" cy="393.86" r="0.85" stroke="#1a1af0" stroke-width="0.35" fill="none" opacity="0.28"/>
<path d="M43.73 395.35V396.56M42.53 395.35h2.4M42.53 396.56h2.4" stroke="#1a1af0" stroke-width="0.35" fill="none" opacity="0.25"/>
<circle cx="43.73" cy="395.96" r="0.85" stroke="#1a1af0" stroke-width="0.35" fill="none" opacity="0.28"/>
<path d="M44.54 394.04V394.77M43.34 394.04h2.4M43.34 394.77h2.4" stroke="#1a1af0" stroke-width="0.35" fill="none" opacity="0.25"/>
<circle cx="44.54" cy="394.4" r="0.85" stroke="#1a1af0" stroke-width="0.35" fill="none" opacity="0.28"/>
<path d="M45.13 394.04V395.26M43.93 394.04h2.4M43.93 395.26h2.4" stroke="#1a1af0" stroke-width="0.35" fill="none" opacity="0.25"/>
<circle cx="45.13" cy="394.65" r="0.85" stroke="#1a1af0" stroke-width="0.35" fill="none" opacity="0.28"/>
<path d="M45.75 393.14V394.29M44.55 393.14h2.4M44.55 394.29h2.4" stroke="#1a1af0" stroke-width="0.35" fill="none" opacity="0.25"/>
<circle cx="45.75" cy="393.72" r="0.85" stroke="#1a1af0" stroke-width="0.35" fill="none" opacity="0.28"/>
<path d="M46.21 393.91V395.26M45.01 393.91h2.4M45.01 395.26h2.4" stroke="#1a1af0" stroke-width="0.35" fill="none" opacity="0.25"/>
<circle cx="46.21" cy="394.59" r="0.85" stroke="#1a1af0" stroke-width="0.35" fill="none" opacity="0.28"/>
<path d="M47 394.45V395.24M45.8 394.45h2.4M45.8 395.24h2.4" stroke="#1a1af0" stroke-width="0.35" fill="none" opacity="0.25"/>
<circle cx="47" cy="394.85" r="0.85" stroke="#1a1af0" stroke-width="0.35" fill="none" opacity="0.28"/>
<path d="M47.48 393.26V394.16M46.28 393.26h2.4M46.28 394.16h2.4" stroke="#1a1af0" stroke-width="0.35" fill="none" opacity="0.25"/>
<circle cx="47.48" cy="393.71" r="0.85" stroke="#1a1af0" stroke-width="0.35" fill="none" opacity="0.28"/>
<path d="M48.09 394V395.21M46.89 394h2.4M46.89 395.21h2.4" stroke="#1a1af0" stroke-width="0.35" fill="none" opacity="0.25"/>
<circle cx="48.09" cy="394.61" r="0.85" stroke="#1a1af0" stroke-width="0.35" fill="none" opacity="0.28"/>
<path d="M48.42 394.54V395.7M47.22 394.54h2.4M47.22 395.7h2.4" stroke="#1a1af0" stroke-width="0.35" fill="none" opacity="0.25"/>
<circle cx="48.42" cy="395.12" r="0.85" stroke="#1a1af0" stroke-width="0.35" fill="none" opacity="0.28"/>
<path d="M48.91 393.82V394.73M47.71 393.82h2.4M47.71 394.73h2.4" stroke="#1a1af0" stroke-width="0.35" fill="none" opacity="0.25"/>
<circle cx="48.91" cy="394.28" r="0.85" stroke="#1a1af0" stroke-width="0.35" fill="none" opacity="0.28"/>
<path d="M49.58 393.06V393.88M48.38 393.06h2.4M48.38 393.88h2.4" stroke="#1a1af0" stroke-width="0.35" fill="none" opacity="0.25"/>
<circle cx="49.58" cy="393.47" r="0.85" stroke="#1a1af0" stroke-width="0.35" fill="none" opacity="0.28"/>
<path d="M50.32 393.52V394.33M49.12 393.52h2.4M49.12 394.33h2.4" stroke="#1a1af0" stroke-width="0.35" fill="none" opacity="0.25"/>
<circle cx="50.32" cy="393.92" r="0.85" stroke="#1a1af0" stroke-width="0.35" fill="none" opacity="0.28"/>
<path d="M50.77 394.18V395.23M49.57 394.18h2.4M49.57 395.23h2.4" stroke="#1a1af0" stroke-width="0.35" fill="none" opacity="0.25"/>
<circle cx="50.77" cy="394.71" r="0.85" stroke="#1a1af0" stroke-width="0.35" fill="none" opacity="0.28"/>
<path d="M51.82 395.55V396.41M50.62 395.55h2.4M50.62 396.41h2.4" stroke="#1a1af0" stroke-width="0.35" fill="none" opacity="0.25"/>
<circle cx="51.82" cy="395.98" r="0.85" stroke="#1a1af0" stroke-width="0.35" fill="none" opacity="0.28"/>
<path d="M52.26 396.06V397.07M51.06 396.06h2.4M51.06 397.07h2.4" stroke="#1a1af0" stroke-width="0.35" fill="none" opacity="0.25"/>
<circle cx="52.26" cy="396.56" r="0.85" stroke="#1a1af0" stroke-width="0.35" fill="none" opacity="0.28"/>
<path d="M52.91 391.9V392.7M51.71 391.9h2.4M51.71 392.7h2.4" stroke="#1a1af0" stroke-width="0.35" fill="none" opacity="0.25"/>
<circle cx="52.91" cy="392.3" r="0.85" stroke="#1a1af0" stroke-width="0.35" fill="none" opacity="0.28"/>
<path d="M53.52 393.59V394.53M52.32 393.59h2.4M52.32 394.53h2.4" stroke="#1a1af0" stroke-width="0.35" fill="none" opacity="0.25"/>
<circle cx="53.52" cy="394.06" r="0.85" stroke="#1a1af0" stroke-width="0.35" fill="none" opacity="0.28"/>
<path d="M54.16 393.84V394.61M52.96 393.84h2.4M52.96 394.61h2.4" stroke="#1a1af0" stroke-width="0.35" fill="none" opacity="0.25"/>
<circle cx="54.16" cy="394.23" r="0.85" stroke="#1a1af0" stroke-width="0.35" fill="none" opacity="0.28"/>
<path d="M54.65 393.31V394.41M53.45 393.31h2.4M53.45 394.41h2.4" stroke="#1a1af0" stroke-width="0.35" fill="none" opacity="0.25"/>
<circle cx="54.65" cy="393.86" r="0.85" stroke="#1a1af0" stroke-width="0.35" fill="none" opacity="0.28"/>
<path d="M54.96 393.81V395.13M53.76 393.81h2.4M53.76 395.13h2.4" stroke="#1a1af0" stroke-width="0.35" fill="none" opacity="0.25"/>
<circle cx="54.96" cy="394.47" r="0.85" stroke="#1a1af0" stroke-width="0.35" fill="none" opacity="0.28"/>
<path d="M56.05 393.17V394.16M54.85 393.17h2.4M54.85 394.16h2.4" stroke="#1a1af0" stroke-width="0.35" fill="none" opacity="0.25"/>
<circle cx="56.05" cy="393.67" r="0.85" stroke="#1a1af0" stroke-width="0.35" fill="none" opacity="0.28"/>
<path d="M56.63 392.15V393.22M55.43 392.15h2.4M55.43 393.22h2.4" stroke="#1a1af0" stroke-width="0.35" fill="none" opacity="0.25"/>
<circle cx="56.63" cy="392.68" r="0.85" stroke="#1a1af0" stroke-width="0.35" fill="none" opacity="0.28"/>
<path d="M57.09 392.61V393.35M55.89 392.61h2.4M55.89 393.35h2.4" stroke="#1a1af0" stroke-width="0.35" fill="none" opacity="0.25"/>
<circle cx="57.09" cy="392.98" r="0.85" stroke="#1a1af0" stroke-width="0.35" fill="none" opacity="0.28"/>
<path d="M57.72 393.63V394.52M56.52 393.63h2.4M56.52 394.52h2.4" stroke="#1a1af0" stroke-width="0.35" fill="none" opacity="0.25"/>
<circle cx="57.72" cy="394.08" r="0.85" stroke="#1a1af0" stroke-width="0.35" fill="none" opacity="0.28"/>
<path d="M58.4 393.37V394.42M57.2 393.37h2.4M57.2 394.42h2.4" stroke="#1a1af0" stroke-width="0.35" fill="none" opacity="0.25"/>
<circle cx="58.4" cy="393.89" r="0.85" stroke="#1a1af0" stroke-width="0.35" fill="none" opacity="0.28"/>
<path d="M58.64 392.75V393.89M57.44 392.75h2.4M57.44 393.89h2.4" stroke="#1a1af0" stroke-width="0.35" fill="none" opacity="0.25"/>
<circle cx="58.64" cy="393.32" r="0.85" stroke="#1a1af0" stroke-width="0.35" fill="none" opacity="0.28"/>
<path d="M59.66 393.27V394.16M58.46 393.27h2.4M58.46 394.16h2.4" stroke="#1a1af0" stroke-width="0.35" fill="none" opacity="0.25"/>
<circle cx="59.66" cy="393.72" r="0.85" stroke="#1a1af0" stroke-width="0.35" fill="none" opacity="0.28"/>
<path d="M59.97 392.37V393.24M58.77 392.37h2.4M58.77 393.24h2.4" stroke="#1a1af0" stroke-width="0.35" fill="none" opacity="0.25"/>
<circle cx="59.97" cy="392.8" r="0.85" stroke="#1a1af0" stroke-width="0.35" fill="none" opacity="0.28"/>
<path d="M60.47 391.76V393.12M59.27 391.76h2.4M59.27 393.12h2.4" stroke="#1a1af0" stroke-width="0.35" fill="none" opacity="0.25"/>
<circle cx="60.47" cy="392.44" r="0.85" stroke="#1a1af0" stroke-width="0.35" fill="none" opacity="0.28"/>
<path d="M61.2 393.09V394.38M60 393.09h2.4M60 394.38h2.4" stroke="#1a1af0" stroke-width="0.35" fill="none" opacity="0.25"/>
<circle cx="61.2" cy="393.73" r="0.85" stroke="#1a1af0" stroke-width="0.35" fill="none" opacity="0.28"/>
<path d="M62.08 392.84V393.56M60.88 392.84h2.4M60.88 393.56h2.4" stroke="#1a1af0" stroke-width="0.35" fill="none" opacity="0.25"/>
<circle cx="62.08" cy="393.2" r="0.85" stroke="#1a1af0" stroke-width="0.35" fill="none" opacity="0.28"/>
<path d="M62.37 392.31V393.5M61.17 392.31h2.4M61.17 393.5h2.4" stroke="#1a1af0" stroke-width="0.35" fill="none" opacity="0.25"/>
<circle cx="62.37" cy="392.91" r="0.85" stroke="#1a1af0" stroke-width="0.35" fill="none" opacity="0.28"/>
<path d="M63.31 393.2V394.31M62.11 393.2h2.4M62.11 394.31h2.4" stroke="#1a1af0" stroke-width="0.35" fill="none" opacity="0.25"/>
<circle cx="63.31" cy="393.76" r="0.85" stroke="#1a1af0" stroke-width="0.35" fill="none" opacity="0.28"/>
<path d="M64.06 391.9V392.6M62.86 391.9h2.4M62.86 392.6h2.4" stroke="#1a1af0" stroke-width="0.35" fill="none" opacity="0.25"/>
<circle cx="64.06" cy="392.25" r="0.85" stroke="#1a1af0" stroke-width="0.35" fill="none" opacity="0.28"/>
<path d="M64.37 390.6V391.88M63.17 390.6h2.4M63.17 391.88h2.4" stroke="#1a1af0" stroke-width="0.35" fill="none" opacity="0.25"/>
<circle cx="64.37" cy="391.24" r="0.85" stroke="#1a1af0" stroke-width="0.35" fill="none" opacity="0.28"/>
<path d="M64.91 393.44V394.73M63.71 393.44h2.4M63.71 394.73h2.4" stroke="#1a1af0" stroke-width="0.35" fill="none" opacity="0.25"/>
<circle cx="64.91" cy="394.08" r="0.85" stroke="#1a1af0" stroke-width="0.35" fill="none" opacity="0.28"/>
<path d="M65.58 393V393.78M64.38 393h2.4M64.38 393.78h2.4" stroke="#1a1af0" stroke-width="0.35" fill="none" opacity="0.25"/>
<circle cx="65.58" cy="393.39" r="0.85" stroke="#1a1af0" stroke-width="0.35" fill="none" opacity="0.28"/>
<path d="M66.31 392.13V392.93M65.11 392.13h2.4M65.11 392.93h2.4" stroke="#1a1af0" stroke-width="0.35" fill="none" opacity="0.25"/>
<circle cx="66.31" cy="392.53" r="0.85" stroke="#1a1af0" stroke-width="0.35" fill="none" opacity="0.28"/>
<path d="M22.9 331.7L61.8 312.5" stroke="#3a3a3a" stroke-width="0.5"/>
<path d="M22.9 349.4L62.2 335.5" stroke="#3a3a3a" stroke-width="0.5"/>
<path d="M22.9 361.8L62.2 354.8" stroke="#3a3a3a" stroke-width="0.5"/>
<path d="M22.9 380.3L62.2 375.7" stroke="#3a3a3a" stroke-width="0.5"/>
<path d="M20.6 397.2L66.8 392.6" stroke="#3a3a3a" stroke-width="0.5"/>
</g>
<rect x="17.7" y="304" width="48.8" height="105.2" fill="none" stroke="#2a2a2a" stroke-width="0.68"/>
<path d="M17.7 306h2M66.5 306h-2" stroke="#222" stroke-width="0.7"/>
<text x="15.4" y="308.4" font-size="6.7" text-anchor="end" fill="#222" stroke="#222" stroke-width="0.1">180</text>
<path d="M17.7 324.6h2M66.5 324.6h-2" stroke="#222" stroke-width="0.7"/>
<text x="15.4" y="327" font-size="6.7" text-anchor="end" fill="#222" stroke="#222" stroke-width="0.1">150</text>
<path d="M17.7 343.1h2M66.5 343.1h-2" stroke="#222" stroke-width="0.7"/>
<text x="15.4" y="345.5" font-size="6.7" text-anchor="end" fill="#222" stroke="#222" stroke-width="0.1">120</text>
<path d="M17.7 361.6h2M66.5 361.6h-2" stroke="#222" stroke-width="0.7"/>
<text x="15.4" y="364" font-size="6.7" text-anchor="end" fill="#222" stroke="#222" stroke-width="0.1">90</text>
<path d="M17.7 378h2M66.5 378h-2" stroke="#222" stroke-width="0.7"/>
<text x="15.4" y="380.4" font-size="6.7" text-anchor="end" fill="#222" stroke="#222" stroke-width="0.1">40</text>
<path d="M17.7 389h2M66.5 389h-2" stroke="#222" stroke-width="0.7"/>
<text x="15.4" y="391.4" font-size="6.7" text-anchor="end" fill="#222" stroke="#222" stroke-width="0.1">30</text>
<path d="M17.7 398.5h2M66.5 398.5h-2" stroke="#222" stroke-width="0.7"/>
<text x="15.4" y="400.9" font-size="6.7" text-anchor="end" fill="#222" stroke="#222" stroke-width="0.1">10</text>
<path d="M17.7 408.9h2M66.5 408.9h-2" stroke="#222" stroke-width="0.7"/>
<text x="15.4" y="411.3" font-size="6.7" text-anchor="end" fill="#222" stroke="#222" stroke-width="0.1">0</text>
<path d="M17.7 315.3h1.2M66.5 315.3h-1.2" stroke="#222" stroke-width="0.6"/>
<path d="M17.7 333.8h1.2M66.5 333.8h-1.2" stroke="#222" stroke-width="0.6"/>
<path d="M17.7 352.3h1.2M66.5 352.3h-1.2" stroke="#222" stroke-width="0.6"/>
<path d="M17.7 383.5h1.2M66.5 383.5h-1.2" stroke="#222" stroke-width="0.6"/>
<path d="M17.7 403.7h1.2M66.5 403.7h-1.2" stroke="#222" stroke-width="0.6"/>
<path d="M15.4 371.55l4.6 -1.3M15.4 373.05l4.6 -1.3" stroke="#151515" stroke-width="0.72"/>
<path d="M64.2 371.55l4.6 -1.3M64.2 373.05l4.6 -1.3" stroke="#151515" stroke-width="0.72"/>
<path d="M15.4 389.95l4.6 -1.3M15.4 391.45l4.6 -1.3" stroke="#151515" stroke-width="0.72"/>
<path d="M64.2 389.95l4.6 -1.3M64.2 391.45l4.6 -1.3" stroke="#151515" stroke-width="0.72"/>
<path d="M26.3 409.2v-2M26.3 304v2" stroke="#222" stroke-width="0.7"/>
<text x="26.3" y="416.7" font-size="6.7" text-anchor="middle" fill="#222" stroke="#222" stroke-width="0.1">8</text>
<path d="M44 409.2v-2M44 304v2" stroke="#222" stroke-width="0.7"/>
<text x="44" y="416.7" font-size="6.7" text-anchor="middle" fill="#222" stroke="#222" stroke-width="0.1">10</text>
<path d="M61.7 409.2v-2M61.7 304v2" stroke="#222" stroke-width="0.7"/>
<text x="61.7" y="416.7" font-size="6.7" text-anchor="middle" fill="#222" stroke="#222" stroke-width="0.1">12</text>
<path d="M17.45 409.2v-1.2M17.45 304v1.2" stroke="#222" stroke-width="0.6"/>
<path d="M35.15 409.2v-1.2M35.15 304v1.2" stroke="#222" stroke-width="0.6"/>
<path d="M52.85 409.2v-1.2M52.85 304v1.2" stroke="#222" stroke-width="0.6"/>
<text x="20.9" y="312.4" font-size="6.9" text-anchor="start" fill="#222" stroke="#222" stroke-width="0.1">(c)</text>
<circle cx="45.6" cy="328" r="1.0" stroke="#f0202a" stroke-width="0.45" fill="none" opacity="0.9"/>
<text x="64.2" y="329.2" font-size="4.2" text-anchor="end" fill="#3a3a3a" stroke="#3a3a3a" stroke-width="0.1" font-family='"Liberation Sans", sans-serif'>10.2 nm</text>
<circle cx="45.6" cy="346.9" r="1.0" stroke="#ff8a14" stroke-width="0.45" fill="none" opacity="0.9"/>
<text x="64.2" y="348.1" font-size="4.2" text-anchor="end" fill="#3a3a3a" stroke="#3a3a3a" stroke-width="0.1" font-family='"Liberation Sans", sans-serif'>18.1 nm</text>
<circle cx="45.6" cy="365" r="1.0" stroke="#14851e" stroke-width="0.45" fill="none" opacity="0.9"/>
<text x="64.2" y="366.2" font-size="4.2" text-anchor="end" fill="#3a3a3a" stroke="#3a3a3a" stroke-width="0.1" font-family='"Liberation Sans", sans-serif'>37.6 nm</text>
<circle cx="45" cy="385.3" r="1.0" stroke="#179090" stroke-width="0.45" fill="none" opacity="0.9"/>
<text x="64.2" y="386.5" font-size="4.2" text-anchor="end" fill="#3a3a3a" stroke="#3a3a3a" stroke-width="0.1" font-family='"Liberation Sans", sans-serif'>92.3 nm</text>
<circle cx="45" cy="400.5" r="1.0" stroke="#1a1af0" stroke-width="0.45" fill="none" opacity="0.9"/>
<text x="64.2" y="401.7" font-size="4.2" text-anchor="end" fill="#3a3a3a" stroke="#3a3a3a" stroke-width="0.1" font-family='"Liberation Sans", sans-serif'>200 &#160;nm</text>
<g clip-path="url(#cpd)">
<path d="M89.05 320.6V328.77M87.05 320.6h4M87.05 328.77h4" stroke="#ff8a14" stroke-width="0.35" fill="none" opacity="0.53"/>
<circle cx="89.05" cy="324.69" r="0.85" stroke="#ff8a14" stroke-width="0.35" fill="none" opacity="0.6"/>
<path d="M90.14 317.1V323.51M88.14 317.1h4M88.14 323.51h4" stroke="#ff8a14" stroke-width="0.35" fill="none" opacity="0.53"/>
<circle cx="90.14" cy="320.3" r="0.85" stroke="#ff8a14" stroke-width="0.35" fill="none" opacity="0.6"/>
<path d="M91.9 316.51V325.02M89.9 316.51h4M89.9 325.02h4" stroke="#ff8a14" stroke-width="0.35" fill="none" opacity="0.53"/>
<circle cx="91.9" cy="320.77" r="0.85" stroke="#ff8a14" stroke-width="0.35" fill="none" opacity="0.6"/>
<path d="M90.41 319.09V326.49M88.41 319.09h4M88.41 326.49h4" stroke="#ff8a14" stroke-width="0.35" fill="none" opacity="0.53"/>
<circle cx="90.41" cy="322.79" r="0.85" stroke="#ff8a14" stroke-width="0.35" fill="none" opacity="0.6"/>
<path d="M89.9 317.8V324.3M87.9 317.8h4M87.9 324.3h4" stroke="#ff8a14" stroke-width="0.35" fill="none" opacity="0.53"/>
<circle cx="89.9" cy="321.05" r="0.85" stroke="#ff8a14" stroke-width="0.35" fill="none" opacity="0.6"/>
<path d="M90.7 317.79V325.06M88.7 317.79h4M88.7 325.06h4" stroke="#ff8a14" stroke-width="0.35" fill="none" opacity="0.53"/>
<circle cx="90.7" cy="321.43" r="0.85" stroke="#ff8a14" stroke-width="0.35" fill="none" opacity="0.6"/>
<path d="M88.61 316.45V323.69M86.61 316.45h4M86.61 323.69h4" stroke="#ff8a14" stroke-width="0.35" fill="none" opacity="0.53"/>
<circle cx="88.61" cy="320.07" r="0.85" stroke="#ff8a14" stroke-width="0.35" fill="none" opacity="0.6"/>
<path d="M89.25 318.1V326.46M87.25 318.1h4M87.25 326.46h4" stroke="#ff8a14" stroke-width="0.35" fill="none" opacity="0.53"/>
<circle cx="89.25" cy="322.28" r="0.85" stroke="#ff8a14" stroke-width="0.35" fill="none" opacity="0.6"/>
<path d="M90.67 318.17V323.97M88.67 318.17h4M88.67 323.97h4" stroke="#ff8a14" stroke-width="0.35" fill="none" opacity="0.53"/>
<circle cx="90.67" cy="321.07" r="0.85" stroke="#ff8a14" stroke-width="0.35" fill="none" opacity="0.6"/>
<path d="M93.93 317.49V323.65M91.93 317.49h4M91.93 323.65h4" stroke="#ff8a14" stroke-width="0.35" fill="none" opacity="0.53"/>
<circle cx="93.93" cy="320.57" r="0.85" stroke="#ff8a14" stroke-width="0.35" fill="none" opacity="0.6"/>
<path d="M94.77 315.18V322.98M92.77 315.18h4M92.77 322.98h4" stroke="#ff8a14" stroke-width="0.35" fill="none" opacity="0.53"/>
<circle cx="94.77" cy="319.08" r="0.85" stroke="#ff8a14" stroke-width="0.35" fill="none" opacity="0.6"/>
<path d="M97.93 313.56V321.11M95.93 313.56h4M95.93 321.11h4" stroke="#ff8a14" stroke-width="0.35" fill="none" opacity="0.53"/>
<circle cx="97.93" cy="317.33" r="0.85" stroke="#ff8a14" stroke-width="0.35" fill="none" opacity="0.6"/>
<path d="M99.29 312.47V321.02M97.29 312.47h4M97.29 321.02h4" stroke="#ff8a14" stroke-width="0.35" fill="none" opacity="0.53"/>
<circle cx="99.29" cy="316.75" r="0.85" stroke="#ff8a14" stroke-width="0.35" fill="none" opacity="0.6"/>
<path d="M100.52 315.03V320.72M98.52 315.03h4M98.52 320.72h4" stroke="#ff8a14" stroke-width="0.35" fill="none" opacity="0.53"/>
<circle cx="100.52" cy="317.87" r="0.85" stroke="#ff8a14" stroke-width="0.35" fill="none" opacity="0.6"/>
<path d="M102.06 315.5V320.8M100.06 315.5h4M100.06 320.8h4" stroke="#ff8a14" stroke-width="0.35" fill="none" opacity="0.53"/>
<circle cx="102.06" cy="318.15" r="0.85" stroke="#ff8a14" stroke-width="0.35" fill="none" opacity="0.6"/>
<path d="M104.16 311.46V319.1M102.16 311.46h4M102.16 319.1h4" stroke="#ff8a14" stroke-width="0.35" fill="none" opacity="0.53"/>
<circle cx="104.16" cy="315.28" r="0.85" stroke="#ff8a14" stroke-width="0.35" fill="none" opacity="0.6"/>
<path d="M106.75 311.16V317.65M104.75 311.16h4M104.75 317.65h4" stroke="#ff8a14" stroke-width="0.35" fill="none" opacity="0.53"/>
<circle cx="106.75" cy="314.41" r="0.85" stroke="#ff8a14" stroke-width="0.35" fill="none" opacity="0.6"/>
<path d="M108.74 318.23V323.39M106.74 318.23h4M106.74 323.39h4" stroke="#ff8a14" stroke-width="0.35" fill="none" opacity="0.53"/>
<circle cx="108.74" cy="320.81" r="0.85" stroke="#ff8a14" stroke-width="0.35" fill="none" opacity="0.6"/>
<path d="M109.51 311.91V319.14M107.51 311.91h4M107.51 319.14h4" stroke="#ff8a14" stroke-width="0.35" fill="none" opacity="0.53"/>
<circle cx="109.51" cy="315.53" r="0.85" stroke="#ff8a14" stroke-width="0.35" fill="none" opacity="0.6"/>
<path d="M111.3 312.7V321.15M109.3 312.7h4M109.3 321.15h4" stroke="#ff8a14" stroke-width="0.35" fill="none" opacity="0.53"/>
<circle cx="111.3" cy="316.93" r="0.85" stroke="#ff8a14" stroke-width="0.35" fill="none" opacity="0.6"/>
<path d="M114.02 312.49V317.75M112.02 312.49h4M112.02 317.75h4" stroke="#ff8a14" stroke-width="0.35" fill="none" opacity="0.53"/>
<circle cx="114.02" cy="315.12" r="0.85" stroke="#ff8a14" stroke-width="0.35" fill="none" opacity="0.6"/>
<path d="M116 310.65V319.22M114 310.65h4M114 319.22h4" stroke="#ff8a14" stroke-width="0.35" fill="none" opacity="0.53"/>
<circle cx="116" cy="314.94" r="0.85" stroke="#ff8a14" stroke-width="0.35" fill="none" opacity="0.6"/>
<path d="M117.51 310.81V315.41M115.51 310.81h4M115.51 315.41h4" stroke="#ff8a14" stroke-width="0.35" fill="none" opacity="0.53"/>
<circle cx="117.51" cy="313.11" r="0.85" stroke="#ff8a14" stroke-width="0.35" fill="none" opacity="0.6"/>
<path d="M119.07 309.72V315.76M117.07 309.72h4M117.07 315.76h4" stroke="#ff8a14" stroke-width="0.35" fill="none" opacity="0.53"/>
<circle cx="119.07" cy="312.74" r="0.85" stroke="#ff8a14" stroke-width="0.35" fill="none" opacity="0.6"/>
<path d="M121.64 311.42V318.94M119.64 311.42h4M119.64 318.94h4" stroke="#ff8a14" stroke-width="0.35" fill="none" opacity="0.53"/>
<circle cx="121.64" cy="315.18" r="0.85" stroke="#ff8a14" stroke-width="0.35" fill="none" opacity="0.6"/>
<path d="M122.41 303.93V312.6M120.41 303.93h4M120.41 312.6h4" stroke="#ff8a14" stroke-width="0.35" fill="none" opacity="0.53"/>
<circle cx="122.41" cy="308.27" r="0.85" stroke="#ff8a14" stroke-width="0.35" fill="none" opacity="0.6"/>
<path d="M124.82 309.66V314.81M122.82 309.66h4M122.82 314.81h4" stroke="#ff8a14" stroke-width="0.35" fill="none" opacity="0.53"/>
<circle cx="124.82" cy="312.23" r="0.85" stroke="#ff8a14" stroke-width="0.35" fill="none" opacity="0.6"/>
<path d="M126.99 304.63V313.04M124.99 304.63h4M124.99 313.04h4" stroke="#ff8a14" stroke-width="0.35" fill="none" opacity="0.53"/>
<circle cx="126.99" cy="308.84" r="0.85" stroke="#ff8a14" stroke-width="0.35" fill="none" opacity="0.6"/>
<path d="M90.13 337.15V339.96M88.43 337.15h3.4M88.43 339.96h3.4" stroke="#14851e" stroke-width="0.35" fill="none" opacity="0.53"/>
<circle cx="90.13" cy="338.55" r="0.85" stroke="#14851e" stroke-width="0.35" fill="none" opacity="0.6"/>
<path d="M85.22 334.99V337.66M83.52 334.99h3.4M83.52 337.66h3.4" stroke="#14851e" stroke-width="0.35" fill="none" opacity="0.53"/>
<circle cx="85.22" cy="336.32" r="0.85" stroke="#14851e" stroke-width="0.35" fill="none" opacity="0.6"/>
<path d="M89.57 339.23V341.88M87.87 339.23h3.4M87.87 341.88h3.4" stroke="#14851e" stroke-width="0.35" fill="none" opacity="0.53"/>
<circle cx="89.57" cy="340.56" r="0.85" stroke="#14851e" stroke-width="0.35" fill="none" opacity="0.6"/>
<path d="M87.6 336.66V340.26M85.9 336.66h3.4M85.9 340.26h3.4" stroke="#14851e" stroke-width="0.35" fill="none" opacity="0.53"/>
<circle cx="87.6" cy="338.46" r="0.85" stroke="#14851e" stroke-width="0.35" fill="none" opacity="0.6"/>
<path d="M87.57 337.46V339.57M85.87 337.46h3.4M85.87 339.57h3.4" stroke="#14851e" stroke-width="0.35" fill="none" opacity="0.53"/>
<circle cx="87.57" cy="338.52" r="0.85" stroke="#14851e" stroke-width="0.35" fill="none" opacity="0.6"/>
<path d="M87.28 338.2V341.89M85.58 338.2h3.4M85.58 341.89h3.4" stroke="#14851e" stroke-width="0.35" fill="none" opacity="0.53"/>
<circle cx="87.28" cy="340.04" r="0.85" stroke="#14851e" stroke-width="0.35" fill="none" opacity="0.6"/>
<path d="M86.16 338.86V342.94M84.46 338.86h3.4M84.46 342.94h3.4" stroke="#14851e" stroke-width="0.35" fill="none" opacity="0.53"/>
<circle cx="86.16" cy="340.9" r="0.85" stroke="#14851e" stroke-width="0.35" fill="none" opacity="0.6"/>
<path d="M85.02 337.28V339.43M83.32 337.28h3.4M83.32 339.43h3.4" stroke="#14851e" stroke-width="0.35" fill="none" opacity="0.53"/>
<circle cx="85.02" cy="338.35" r="0.85" stroke="#14851e" stroke-width="0.35" fill="none" opacity="0.6"/>
<path d="M86.93 337.18V341.28M85.23 337.18h3.4M85.23 341.28h3.4" stroke="#14851e" stroke-width="0.35" fill="none" opacity="0.53"/>
<circle cx="86.93" cy="339.23" r="0.85" stroke="#14851e" stroke-width="0.35" fill="none" opacity="0.6"/>
<path d="M87.42 338.53V342.63M85.72 338.53h3.4M85.72 342.63h3.4" stroke="#14851e" stroke-width="0.35" fill="none" opacity="0.53"/>
<circle cx="87.42" cy="340.58" r="0.85" stroke="#14851e" stroke-width="0.35" fill="none" opacity="0.6"/>
<path d="M91.67 336.07V339.08M89.97 336.07h3.4M89.97 339.08h3.4" stroke="#14851e" stroke-width="0.35" fill="none" opacity="0.53"/>
<circle cx="91.67" cy="337.58" r="0.85" stroke="#14851e" stroke-width="0.35" fill="none" opacity="0.6"/>
<path d="M91.93 337.47V340.61M90.23 337.47h3.4M90.23 340.61h3.4" stroke="#14851e" stroke-width="0.35" fill="none" opacity="0.53"/>
<circle cx="91.93" cy="339.04" r="0.85" stroke="#14851e" stroke-width="0.35" fill="none" opacity="0.6"/>
<path d="M94.83 336.83V340.61M93.13 336.83h3.4M93.13 340.61h3.4" stroke="#14851e" stroke-width="0.35" fill="none" opacity="0.53"/>
<circle cx="94.83" cy="338.72" r="0.85" stroke="#14851e" stroke-width="0.35" fill="none" opacity="0.6"/>
<path d="M95.22 335.65V339.3M93.52 335.65h3.4M93.52 339.3h3.4" stroke="#14851e" stroke-width="0.35" fill="none" opacity="0.53"/>
<circle cx="95.22" cy="337.48" r="0.85" stroke="#14851e" stroke-width="0.35" fill="none" opacity="0.6"/>
<path d="M97.03 336.98V340.35M95.33 336.98h3.4M95.33 340.35h3.4" stroke="#14851e" stroke-width="0.35" fill="none" opacity="0.53"/>
<circle cx="97.03" cy="338.67" r="0.85" stroke="#14851e" stroke-width="0.35" fill="none" opacity="0.6"/>
<path d="M99.34 333.71V336.5M97.64 333.71h3.4M97.64 336.5h3.4" stroke="#14851e" stroke-width="0.35" fill="none" opacity="0.53"/>
<circle cx="99.34" cy="335.11" r="0.85" stroke="#14851e" stroke-width="0.35" fill="none" opacity="0.6"/>
<path d="M100.92 334.61V338.35M99.22 334.61h3.4M99.22 338.35h3.4" stroke="#14851e" stroke-width="0.35" fill="none" opacity="0.53"/>
<circle cx="100.92" cy="336.48" r="0.85" stroke="#14851e" stroke-width="0.35" fill="none" opacity="0.6"/>
<path d="M101.88 336.97V339.23M100.18 336.97h3.4M100.18 339.23h3.4" stroke="#14851e" stroke-width="0.35" fill="none" opacity="0.53"/>
<circle cx="101.88" cy="338.1" r="0.85" stroke="#14851e" stroke-width="0.35" fill="none" opacity="0.6"/>
<path d="M102.85 336.21V338.83M101.15 336.21h3.4M101.15 338.83h3.4" stroke="#14851e" stroke-width="0.35" fill="none" opacity="0.53"/>
<circle cx="102.85" cy="337.52" r="0.85" stroke="#14851e" stroke-width="0.35" fill="none" opacity="0.6"/>
<path d="M105.1 337.53V339.76M103.4 337.53h3.4M103.4 339.76h3.4" stroke="#14851e" stroke-width="0.35" fill="none" opacity="0.53"/>
<circle cx="105.1" cy="338.65" r="0.85" stroke="#14851e" stroke-width="0.35" fill="none" opacity="0.6"/>
<path d="M106.51 336.57V339.35M104.81 336.57h3.4M104.81 339.35h3.4" stroke="#14851e" stroke-width="0.35" fill="none" opacity="0.53"/>
<circle cx="106.51" cy="337.96" r="0.85" stroke="#14851e" stroke-width="0.35" fill="none" opacity="0.6"/>
<path d="M108.95 334.17V338.33M107.25 334.17h3.4M107.25 338.33h3.4" stroke="#14851e" stroke-width="0.35" fill="none" opacity="0.53"/>
<circle cx="108.95" cy="336.25" r="0.85" stroke="#14851e" stroke-width="0.35" fill="none" opacity="0.6"/>
<path d="M109.38 337.57V340.23M107.68 337.57h3.4M107.68 340.23h3.4" stroke="#14851e" stroke-width="0.35" fill="none" opacity="0.53"/>
<circle cx="109.38" cy="338.9" r="0.85" stroke="#14851e" stroke-width="0.35" fill="none" opacity="0.6"/>
<path d="M111.23 331.63V333.9M109.53 331.63h3.4M109.53 333.9h3.4" stroke="#14851e" stroke-width="0.35" fill="none" opacity="0.53"/>
<circle cx="111.23" cy="332.76" r="0.85" stroke="#14851e" stroke-width="0.35" fill="none" opacity="0.6"/>
<path d="M113.65 334.75V338.34M111.95 334.75h3.4M111.95 338.34h3.4" stroke="#14851e" stroke-width="0.35" fill="none" opacity="0.53"/>
<circle cx="113.65" cy="336.54" r="0.85" stroke="#14851e" stroke-width="0.35" fill="none" opacity="0.6"/>
<path d="M113.86 334.58V337.62M112.16 334.58h3.4M112.16 337.62h3.4" stroke="#14851e" stroke-width="0.35" fill="none" opacity="0.53"/>
<circle cx="113.86" cy="336.1" r="0.85" stroke="#14851e" stroke-width="0.35" fill="none" opacity="0.6"/>
<path d="M116.03 333.29V336.69M114.33 333.29h3.4M114.33 336.69h3.4" stroke="#14851e" stroke-width="0.35" fill="none" opacity="0.53"/>
<circle cx="116.03" cy="334.99" r="0.85" stroke="#14851e" stroke-width="0.35" fill="none" opacity="0.6"/>
<path d="M118.24 334.21V337.73M116.54 334.21h3.4M116.54 337.73h3.4" stroke="#14851e" stroke-width="0.35" fill="none" opacity="0.53"/>
<circle cx="118.24" cy="335.97" r="0.85" stroke="#14851e" stroke-width="0.35" fill="none" opacity="0.6"/>
<path d="M119.75 332.52V336.02M118.05 332.52h3.4M118.05 336.02h3.4" stroke="#14851e" stroke-width="0.35" fill="none" opacity="0.53"/>
<circle cx="119.75" cy="334.27" r="0.85" stroke="#14851e" stroke-width="0.35" fill="none" opacity="0.6"/>
<path d="M120.18 330.35V332.71M118.48 330.35h3.4M118.48 332.71h3.4" stroke="#14851e" stroke-width="0.35" fill="none" opacity="0.53"/>
<circle cx="120.18" cy="331.53" r="0.85" stroke="#14851e" stroke-width="0.35" fill="none" opacity="0.6"/>
<path d="M121.75 333V336.29M120.05 333h3.4M120.05 336.29h3.4" stroke="#14851e" stroke-width="0.35" fill="none" opacity="0.53"/>
<circle cx="121.75" cy="334.65" r="0.85" stroke="#14851e" stroke-width="0.35" fill="none" opacity="0.6"/>
<path d="M123.37 331.36V334.24M121.67 331.36h3.4M121.67 334.24h3.4" stroke="#14851e" stroke-width="0.35" fill="none" opacity="0.53"/>
<circle cx="123.37" cy="332.8" r="0.85" stroke="#14851e" stroke-width="0.35" fill="none" opacity="0.6"/>
<path d="M126.3 331.98V334.6M124.6 331.98h3.4M124.6 334.6h3.4" stroke="#14851e" stroke-width="0.35" fill="none" opacity="0.53"/>
<circle cx="126.3" cy="333.29" r="0.85" stroke="#14851e" stroke-width="0.35" fill="none" opacity="0.6"/>
<path d="M126.83 331.04V333.66M125.13 331.04h3.4M125.13 333.66h3.4" stroke="#14851e" stroke-width="0.35" fill="none" opacity="0.53"/>
<circle cx="126.83" cy="332.35" r="0.85" stroke="#14851e" stroke-width="0.35" fill="none" opacity="0.6"/>
<path d="M85.5 360.85L129 352.46" stroke="#179090" stroke-width="4.2" opacity="0.12"/>
<path d="M86.57 357.77V360.53M85.37 357.77h2.4M85.37 360.53h2.4" stroke="#179090" stroke-width="0.35" fill="none" opacity="0.4"/>
<circle cx="86.57" cy="359.15" r="0.85" stroke="#179090" stroke-width="0.35" fill="none" opacity="0.46"/>
<path d="M91.65 359.91V361.74M90.45 359.91h2.4M90.45 361.74h2.4" stroke="#179090" stroke-width="0.35" fill="none" opacity="0.4"/>
<circle cx="91.65" cy="360.83" r="0.85" stroke="#179090" stroke-width="0.35" fill="none" opacity="0.46"/>
<path d="M89.52 360.09V362.46M88.32 360.09h2.4M88.32 362.46h2.4" stroke="#179090" stroke-width="0.35" fill="none" opacity="0.4"/>
<circle cx="89.52" cy="361.27" r="0.85" stroke="#179090" stroke-width="0.35" fill="none" opacity="0.46"/>
<path d="M87.77 361.32V363.48M86.57 361.32h2.4M86.57 363.48h2.4" stroke="#179090" stroke-width="0.35" fill="none" opacity="0.4"/>
<circle cx="87.77" cy="362.4" r="0.85" stroke="#179090" stroke-width="0.35" fill="none" opacity="0.46"/>
<path d="M88.26 357.91V360.11M87.06 357.91h2.4M87.06 360.11h2.4" stroke="#179090" stroke-width="0.35" fill="none" opacity="0.4"/>
<circle cx="88.26" cy="359.01" r="0.85" stroke="#179090" stroke-width="0.35" fill="none" opacity="0.46"/>
<path d="M92.41 361.68V364.31M91.21 361.68h2.4M91.21 364.31h2.4" stroke="#179090" stroke-width="0.35" fill="none" opacity="0.4"/>
<circle cx="92.41" cy="362.99" r="0.85" stroke="#179090" stroke-width="0.35" fill="none" opacity="0.46"/>
<path d="M91.16 357.22V360.36M89.96 357.22h2.4M89.96 360.36h2.4" stroke="#179090" stroke-width="0.35" fill="none" opacity="0.4"/>
<circle cx="91.16" cy="358.79" r="0.85" stroke="#179090" stroke-width="0.35" fill="none" opacity="0.46"/>
<path d="M91.79 359.18V362.53M90.59 359.18h2.4M90.59 362.53h2.4" stroke="#179090" stroke-width="0.35" fill="none" opacity="0.4"/>
<circle cx="91.79" cy="360.86" r="0.85" stroke="#179090" stroke-width="0.35" fill="none" opacity="0.46"/>
<path d="M93.16 357.27V360.18M91.96 357.27h2.4M91.96 360.18h2.4" stroke="#179090" stroke-width="0.35" fill="none" opacity="0.4"/>
<circle cx="93.16" cy="358.72" r="0.85" stroke="#179090" stroke-width="0.35" fill="none" opacity="0.46"/>
<path d="M93.9 358.97V361M92.7 358.97h2.4M92.7 361h2.4" stroke="#179090" stroke-width="0.35" fill="none" opacity="0.4"/>
<circle cx="93.9" cy="359.98" r="0.85" stroke="#179090" stroke-width="0.35" fill="none" opacity="0.46"/>
<path d="M95.06 361.04V363.43M93.86 361.04h2.4M93.86 363.43h2.4" stroke="#179090" stroke-width="0.35" fill="none" opacity="0.4"/>
<circle cx="95.06" cy="362.24" r="0.85" stroke="#179090" stroke-width="0.35" fill="none" opacity="0.46"/>
<path d="M95.16 357.58V360.64M93.96 357.58h2.4M93.96 360.64h2.4" stroke="#179090" stroke-width="0.35" fill="none" opacity="0.4"/>
<circle cx="95.16" cy="359.11" r="0.85" stroke="#179090" stroke-width="0.35" fill="none" opacity="0.46"/>
<path d="M96.35 354.95V357.4M95.15 354.95h2.4M95.15 357.4h2.4" stroke="#179090" stroke-width="0.35" fill="none" opacity="0.4"/>
<circle cx="96.35" cy="356.18" r="0.85" stroke="#179090" stroke-width="0.35" fill="none" opacity="0.46"/>
<path d="M97.52 359.28V361.24M96.32 359.28h2.4M96.32 361.24h2.4" stroke="#179090" stroke-width="0.35" fill="none" opacity="0.4"/>
<circle cx="97.52" cy="360.26" r="0.85" stroke="#179090" stroke-width="0.35" fill="none" opacity="0.46"/>
<path d="M98.41 358.88V361.63M97.21 358.88h2.4M97.21 361.63h2.4" stroke="#179090" stroke-width="0.35" fill="none" opacity="0.4"/>
<circle cx="98.41" cy="360.25" r="0.85" stroke="#179090" stroke-width="0.35" fill="none" opacity="0.46"/>
<path d="M99.35 356.75V359.96M98.15 356.75h2.4M98.15 359.96h2.4" stroke="#179090" stroke-width="0.35" fill="none" opacity="0.4"/>
<circle cx="99.35" cy="358.36" r="0.85" stroke="#179090" stroke-width="0.35" fill="none" opacity="0.46"/>
<path d="M99.46 358.78V361.09M98.26 358.78h2.4M98.26 361.09h2.4" stroke="#179090" stroke-width="0.35" fill="none" opacity="0.4"/>
<circle cx="99.46" cy="359.93" r="0.85" stroke="#179090" stroke-width="0.35" fill="none" opacity="0.46"/>
<path d="M100.55 357.8V360.32M99.35 357.8h2.4M99.35 360.32h2.4" stroke="#179090" stroke-width="0.35" fill="none" opacity="0.4"/>
<circle cx="100.55" cy="359.06" r="0.85" stroke="#179090" stroke-width="0.35" fill="none" opacity="0.46"/>
<path d="M101.26 357.28V359.83M100.06 357.28h2.4M100.06 359.83h2.4" stroke="#179090" stroke-width="0.35" fill="none" opacity="0.4"/>
<circle cx="101.26" cy="358.56" r="0.85" stroke="#179090" stroke-width="0.35" fill="none" opacity="0.46"/>
<path d="M102.19 356.99V360.22M100.99 356.99h2.4M100.99 360.22h2.4" stroke="#179090" stroke-width="0.35" fill="none" opacity="0.4"/>
<circle cx="102.19" cy="358.6" r="0.85" stroke="#179090" stroke-width="0.35" fill="none" opacity="0.46"/>
<path d="M103.75 357.17V360.2M102.55 357.17h2.4M102.55 360.2h2.4" stroke="#179090" stroke-width="0.35" fill="none" opacity="0.4"/>
<circle cx="103.75" cy="358.68" r="0.85" stroke="#179090" stroke-width="0.35" fill="none" opacity="0.46"/>
<path d="M104.28 356.68V359.98M103.08 356.68h2.4M103.08 359.98h2.4" stroke="#179090" stroke-width="0.35" fill="none" opacity="0.4"/>
<circle cx="104.28" cy="358.33" r="0.85" stroke="#179090" stroke-width="0.35" fill="none" opacity="0.46"/>
<path d="M105.45 355.63V358.89M104.25 355.63h2.4M104.25 358.89h2.4" stroke="#179090" stroke-width="0.35" fill="none" opacity="0.4"/>
<circle cx="105.45" cy="357.26" r="0.85" stroke="#179090" stroke-width="0.35" fill="none" opacity="0.46"/>
<path d="M105.83 356.01V359.33M104.63 356.01h2.4M104.63 359.33h2.4" stroke="#179090" stroke-width="0.35" fill="none" opacity="0.4"/>
<circle cx="105.83" cy="357.67" r="0.85" stroke="#179090" stroke-width="0.35" fill="none" opacity="0.46"/>
<path d="M107.13 354.57V357.8M105.93 354.57h2.4M105.93 357.8h2.4" stroke="#179090" stroke-width="0.35" fill="none" opacity="0.4"/>
<circle cx="107.13" cy="356.18" r="0.85" stroke="#179090" stroke-width="0.35" fill="none" opacity="0.46"/>
<path d="M107.64 355.47V357.8M106.44 355.47h2.4M106.44 357.8h2.4" stroke="#179090" stroke-width="0.35" fill="none" opacity="0.4"/>
<circle cx="107.64" cy="356.63" r="0.85" stroke="#179090" stroke-width="0.35" fill="none" opacity="0.46"/>
<path d="M108.35 356.63V359.7M107.15 356.63h2.4M107.15 359.7h2.4" stroke="#179090" stroke-width="0.35" fill="none" opacity="0.4"/>
<circle cx="108.35" cy="358.17" r="0.85" stroke="#179090" stroke-width="0.35" fill="none" opacity="0.46"/>
<path d="M109.67 354.03V355.98M108.47 354.03h2.4M108.47 355.98h2.4" stroke="#179090" stroke-width="0.35" fill="none" opacity="0.4"/>
<circle cx="109.67" cy="355.01" r="0.85" stroke="#179090" stroke-width="0.35" fill="none" opacity="0.46"/>
<path d="M110.68 355.05V357.41M109.48 355.05h2.4M109.48 357.41h2.4" stroke="#179090" stroke-width="0.35" fill="none" opacity="0.4"/>
<circle cx="110.68" cy="356.23" r="0.85" stroke="#179090" stroke-width="0.35" fill="none" opacity="0.46"/>
<path d="M110.82 353.38V356.48M109.62 353.38h2.4M109.62 356.48h2.4" stroke="#179090" stroke-width="0.35" fill="none" opacity="0.4"/>
<circle cx="110.82" cy="354.93" r="0.85" stroke="#179090" stroke-width="0.35" fill="none" opacity="0.46"/>
<path d="M112.12 355.15V357.19M110.92 355.15h2.4M110.92 357.19h2.4" stroke="#179090" stroke-width="0.35" fill="none" opacity="0.4"/>
<circle cx="112.12" cy="356.17" r="0.85" stroke="#179090" stroke-width="0.35" fill="none" opacity="0.46"/>
<path d="M113.01 353.53V355.88M111.81 353.53h2.4M111.81 355.88h2.4" stroke="#179090" stroke-width="0.35" fill="none" opacity="0.4"/>
<circle cx="113.01" cy="354.71" r="0.85" stroke="#179090" stroke-width="0.35" fill="none" opacity="0.46"/>
<path d="M113.53 353.03V354.92M112.33 353.03h2.4M112.33 354.92h2.4" stroke="#179090" stroke-width="0.35" fill="none" opacity="0.4"/>
<circle cx="113.53" cy="353.98" r="0.85" stroke="#179090" stroke-width="0.35" fill="none" opacity="0.46"/>
<path d="M114.53 354.04V356.13M113.33 354.04h2.4M113.33 356.13h2.4" stroke="#179090" stroke-width="0.35" fill="none" opacity="0.4"/>
<circle cx="114.53" cy="355.09" r="0.85" stroke="#179090" stroke-width="0.35" fill="none" opacity="0.46"/>
<path d="M115.2 353.74V355.49M114 353.74h2.4M114 355.49h2.4" stroke="#179090" stroke-width="0.35" fill="none" opacity="0.4"/>
<circle cx="115.2" cy="354.62" r="0.85" stroke="#179090" stroke-width="0.35" fill="none" opacity="0.46"/>
<path d="M116.13 350.47V353.09M114.93 350.47h2.4M114.93 353.09h2.4" stroke="#179090" stroke-width="0.35" fill="none" opacity="0.4"/>
<circle cx="116.13" cy="351.78" r="0.85" stroke="#179090" stroke-width="0.35" fill="none" opacity="0.46"/>
<path d="M117.04 353.24V356.33M115.84 353.24h2.4M115.84 356.33h2.4" stroke="#179090" stroke-width="0.35" fill="none" opacity="0.4"/>
<circle cx="117.04" cy="354.79" r="0.85" stroke="#179090" stroke-width="0.35" fill="none" opacity="0.46"/>
<path d="M118.21 353.18V355.06M117.01 353.18h2.4M117.01 355.06h2.4" stroke="#179090" stroke-width="0.35" fill="none" opacity="0.4"/>
<circle cx="118.21" cy="354.12" r="0.85" stroke="#179090" stroke-width="0.35" fill="none" opacity="0.46"/>
<path d="M119.13 351.46V354.19M117.93 351.46h2.4M117.93 354.19h2.4" stroke="#179090" stroke-width="0.35" fill="none" opacity="0.4"/>
<circle cx="119.13" cy="352.83" r="0.85" stroke="#179090" stroke-width="0.35" fill="none" opacity="0.46"/>
<path d="M119.61 352.06V354.26M118.41 352.06h2.4M118.41 354.26h2.4" stroke="#179090" stroke-width="0.35" fill="none" opacity="0.4"/>
<circle cx="119.61" cy="353.16" r="0.85" stroke="#179090" stroke-width="0.35" fill="none" opacity="0.46"/>
<path d="M120.31 351.2V353.59M119.11 351.2h2.4M119.11 353.59h2.4" stroke="#179090" stroke-width="0.35" fill="none" opacity="0.4"/>
<circle cx="120.31" cy="352.4" r="0.85" stroke="#179090" stroke-width="0.35" fill="none" opacity="0.46"/>
<path d="M121.45 353.48V356.26M120.25 353.48h2.4M120.25 356.26h2.4" stroke="#179090" stroke-width="0.35" fill="none" opacity="0.4"/>
<circle cx="121.45" cy="354.87" r="0.85" stroke="#179090" stroke-width="0.35" fill="none" opacity="0.46"/>
<path d="M122.63 351.31V353.03M121.43 351.31h2.4M121.43 353.03h2.4" stroke="#179090" stroke-width="0.35" fill="none" opacity="0.4"/>
<circle cx="122.63" cy="352.17" r="0.85" stroke="#179090" stroke-width="0.35" fill="none" opacity="0.46"/>
<path d="M123.07 352.77V355.49M121.87 352.77h2.4M121.87 355.49h2.4" stroke="#179090" stroke-width="0.35" fill="none" opacity="0.4"/>
<circle cx="123.07" cy="354.13" r="0.85" stroke="#179090" stroke-width="0.35" fill="none" opacity="0.46"/>
<path d="M124.05 350.84V353.8M122.85 350.84h2.4M122.85 353.8h2.4" stroke="#179090" stroke-width="0.35" fill="none" opacity="0.4"/>
<circle cx="124.05" cy="352.32" r="0.85" stroke="#179090" stroke-width="0.35" fill="none" opacity="0.46"/>
<path d="M124.83 351.84V354.83M123.63 351.84h2.4M123.63 354.83h2.4" stroke="#179090" stroke-width="0.35" fill="none" opacity="0.4"/>
<circle cx="124.83" cy="353.34" r="0.85" stroke="#179090" stroke-width="0.35" fill="none" opacity="0.46"/>
<path d="M126.21 350.85V353.32M125.01 350.85h2.4M125.01 353.32h2.4" stroke="#179090" stroke-width="0.35" fill="none" opacity="0.4"/>
<circle cx="126.21" cy="352.08" r="0.85" stroke="#179090" stroke-width="0.35" fill="none" opacity="0.46"/>
<path d="M126.87 352.18V354.04M125.67 352.18h2.4M125.67 354.04h2.4" stroke="#179090" stroke-width="0.35" fill="none" opacity="0.4"/>
<circle cx="126.87" cy="353.11" r="0.85" stroke="#179090" stroke-width="0.35" fill="none" opacity="0.46"/>
<path d="M127.32 352.97V354.8M126.12 352.97h2.4M126.12 354.8h2.4" stroke="#179090" stroke-width="0.35" fill="none" opacity="0.4"/>
<circle cx="127.32" cy="353.88" r="0.85" stroke="#179090" stroke-width="0.35" fill="none" opacity="0.46"/>
<path d="M128.22 352.55V354.97M127.02 352.55h2.4M127.02 354.97h2.4" stroke="#179090" stroke-width="0.35" fill="none" opacity="0.4"/>
<circle cx="128.22" cy="353.76" r="0.85" stroke="#179090" stroke-width="0.35" fill="none" opacity="0.46"/>
<path d="M85.38 369.91V373.2M83.68 369.91h3.4M83.68 373.2h3.4" stroke="#a020a0" stroke-width="0.35" fill="none" opacity="0.4"/>
<circle cx="85.38" cy="371.55" r="0.85" stroke="#a020a0" stroke-width="0.35" fill="none" opacity="0.46"/>
<path d="M81.81 371.43V375.15M80.11 371.43h3.4M80.11 375.15h3.4" stroke="#a020a0" stroke-width="0.35" fill="none" opacity="0.4"/>
<circle cx="81.81" cy="373.29" r="0.85" stroke="#a020a0" stroke-width="0.35" fill="none" opacity="0.46"/>
<path d="M86.34 369.74V371.92M84.64 369.74h3.4M84.64 371.92h3.4" stroke="#a020a0" stroke-width="0.35" fill="none" opacity="0.4"/>
<circle cx="86.34" cy="370.83" r="0.85" stroke="#a020a0" stroke-width="0.35" fill="none" opacity="0.46"/>
<path d="M82.13 371.08V374.08M80.43 371.08h3.4M80.43 374.08h3.4" stroke="#a020a0" stroke-width="0.35" fill="none" opacity="0.4"/>
<circle cx="82.13" cy="372.58" r="0.85" stroke="#a020a0" stroke-width="0.35" fill="none" opacity="0.46"/>
<path d="M88.05 366.6V370.27M86.35 366.6h3.4M86.35 370.27h3.4" stroke="#a020a0" stroke-width="0.35" fill="none" opacity="0.4"/>
<circle cx="88.05" cy="368.43" r="0.85" stroke="#a020a0" stroke-width="0.35" fill="none" opacity="0.46"/>
<path d="M89.26 366.54V369.59M87.56 366.54h3.4M87.56 369.59h3.4" stroke="#a020a0" stroke-width="0.35" fill="none" opacity="0.4"/>
<circle cx="89.26" cy="368.07" r="0.85" stroke="#a020a0" stroke-width="0.35" fill="none" opacity="0.46"/>
<path d="M90.12 365.28V367.44M88.42 365.28h3.4M88.42 367.44h3.4" stroke="#a020a0" stroke-width="0.35" fill="none" opacity="0.4"/>
<circle cx="90.12" cy="366.36" r="0.85" stroke="#a020a0" stroke-width="0.35" fill="none" opacity="0.46"/>
<path d="M90.75 365.43V369.34M89.05 365.43h3.4M89.05 369.34h3.4" stroke="#a020a0" stroke-width="0.35" fill="none" opacity="0.4"/>
<circle cx="90.75" cy="367.38" r="0.85" stroke="#a020a0" stroke-width="0.35" fill="none" opacity="0.46"/>
<path d="M92.43 365.73V369.25M90.73 365.73h3.4M90.73 369.25h3.4" stroke="#a020a0" stroke-width="0.35" fill="none" opacity="0.4"/>
<circle cx="92.43" cy="367.49" r="0.85" stroke="#a020a0" stroke-width="0.35" fill="none" opacity="0.46"/>
<path d="M93.44 366V368.48M91.74 366h3.4M91.74 368.48h3.4" stroke="#a020a0" stroke-width="0.35" fill="none" opacity="0.4"/>
<circle cx="93.44" cy="367.24" r="0.85" stroke="#a020a0" stroke-width="0.35" fill="none" opacity="0.46"/>
<path d="M95.27 368.41V371.07M93.57 368.41h3.4M93.57 371.07h3.4" stroke="#a020a0" stroke-width="0.35" fill="none" opacity="0.4"/>
<circle cx="95.27" cy="369.74" r="0.85" stroke="#a020a0" stroke-width="0.35" fill="none" opacity="0.46"/>
<path d="M95.49 366.03V369.48M93.79 366.03h3.4M93.79 369.48h3.4" stroke="#a020a0" stroke-width="0.35" fill="none" opacity="0.4"/>
<circle cx="95.49" cy="367.76" r="0.85" stroke="#a020a0" stroke-width="0.35" fill="none" opacity="0.46"/>
<path d="M97.48 364.95V368.37M95.78 364.95h3.4M95.78 368.37h3.4" stroke="#a020a0" stroke-width="0.35" fill="none" opacity="0.4"/>
<circle cx="97.48" cy="366.66" r="0.85" stroke="#a020a0" stroke-width="0.35" fill="none" opacity="0.46"/>
<path d="M98.81 366.51V368.56M97.11 366.51h3.4M97.11 368.56h3.4" stroke="#a020a0" stroke-width="0.35" fill="none" opacity="0.4"/>
<circle cx="98.81" cy="367.53" r="0.85" stroke="#a020a0" stroke-width="0.35" fill="none" opacity="0.46"/>
<path d="M99.66 365.91V369.12M97.96 365.91h3.4M97.96 369.12h3.4" stroke="#a020a0" stroke-width="0.35" fill="none" opacity="0.4"/>
<circle cx="99.66" cy="367.51" r="0.85" stroke="#a020a0" stroke-width="0.35" fill="none" opacity="0.46"/>
<path d="M100.92 363.9V367.79M99.22 363.9h3.4M99.22 367.79h3.4" stroke="#a020a0" stroke-width="0.35" fill="none" opacity="0.4"/>
<circle cx="100.92" cy="365.85" r="0.85" stroke="#a020a0" stroke-width="0.35" fill="none" opacity="0.46"/>
<path d="M101.36 363.67V366.25M99.66 363.67h3.4M99.66 366.25h3.4" stroke="#a020a0" stroke-width="0.35" fill="none" opacity="0.4"/>
<circle cx="101.36" cy="364.96" r="0.85" stroke="#a020a0" stroke-width="0.35" fill="none" opacity="0.46"/>
<path d="M103.43 364.29V366.25M101.73 364.29h3.4M101.73 366.25h3.4" stroke="#a020a0" stroke-width="0.35" fill="none" opacity="0.4"/>
<circle cx="103.43" cy="365.27" r="0.85" stroke="#a020a0" stroke-width="0.35" fill="none" opacity="0.46"/>
<path d="M104.03 365.41V368.58M102.33 365.41h3.4M102.33 368.58h3.4" stroke="#a020a0" stroke-width="0.35" fill="none" opacity="0.4"/>
<circle cx="104.03" cy="367" r="0.85" stroke="#a020a0" stroke-width="0.35" fill="none" opacity="0.46"/>
<path d="M105.73 364.65V367.46M104.03 364.65h3.4M104.03 367.46h3.4" stroke="#a020a0" stroke-width="0.35" fill="none" opacity="0.4"/>
<circle cx="105.73" cy="366.06" r="0.85" stroke="#a020a0" stroke-width="0.35" fill="none" opacity="0.46"/>
<path d="M106.84 361.6V363.82M105.14 361.6h3.4M105.14 363.82h3.4" stroke="#a020a0" stroke-width="0.35" fill="none" opacity="0.4"/>
<circle cx="106.84" cy="362.71" r="0.85" stroke="#a020a0" stroke-width="0.35" fill="none" opacity="0.46"/>
<path d="M107.13 364.18V366.59M105.43 364.18h3.4M105.43 366.59h3.4" stroke="#a020a0" stroke-width="0.35" fill="none" opacity="0.4"/>
<circle cx="107.13" cy="365.38" r="0.85" stroke="#a020a0" stroke-width="0.35" fill="none" opacity="0.46"/>
<path d="M109.02 364.1V366.07M107.32 364.1h3.4M107.32 366.07h3.4" stroke="#a020a0" stroke-width="0.35" fill="none" opacity="0.4"/>
<circle cx="109.02" cy="365.09" r="0.85" stroke="#a020a0" stroke-width="0.35" fill="none" opacity="0.46"/>
<path d="M110.34 363.43V366.08M108.64 363.43h3.4M108.64 366.08h3.4" stroke="#a020a0" stroke-width="0.35" fill="none" opacity="0.4"/>
<circle cx="110.34" cy="364.76" r="0.85" stroke="#a020a0" stroke-width="0.35" fill="none" opacity="0.46"/>
<path d="M110.5 364.8V367.2M108.8 364.8h3.4M108.8 367.2h3.4" stroke="#a020a0" stroke-width="0.35" fill="none" opacity="0.4"/>
<circle cx="110.5" cy="366" r="0.85" stroke="#a020a0" stroke-width="0.35" fill="none" opacity="0.46"/>
<path d="M111.99 363.95V367.05M110.29 363.95h3.4M110.29 367.05h3.4" stroke="#a020a0" stroke-width="0.35" fill="none" opacity="0.4"/>
<circle cx="111.99" cy="365.5" r="0.85" stroke="#a020a0" stroke-width="0.35" fill="none" opacity="0.46"/>
<path d="M113.62 361.98V365.16M111.92 361.98h3.4M111.92 365.16h3.4" stroke="#a020a0" stroke-width="0.35" fill="none" opacity="0.4"/>
<circle cx="113.62" cy="363.57" r="0.85" stroke="#a020a0" stroke-width="0.35" fill="none" opacity="0.46"/>
<path d="M114.09 362.33V365.22M112.39 362.33h3.4M112.39 365.22h3.4" stroke="#a020a0" stroke-width="0.35" fill="none" opacity="0.4"/>
<circle cx="114.09" cy="363.78" r="0.85" stroke="#a020a0" stroke-width="0.35" fill="none" opacity="0.46"/>
<path d="M116.11 364.85V367.29M114.41 364.85h3.4M114.41 367.29h3.4" stroke="#a020a0" stroke-width="0.35" fill="none" opacity="0.4"/>
<circle cx="116.11" cy="366.07" r="0.85" stroke="#a020a0" stroke-width="0.35" fill="none" opacity="0.46"/>
<path d="M116.55 365.14V367.39M114.85 365.14h3.4M114.85 367.39h3.4" stroke="#a020a0" stroke-width="0.35" fill="none" opacity="0.4"/>
<circle cx="116.55" cy="366.27" r="0.85" stroke="#a020a0" stroke-width="0.35" fill="none" opacity="0.46"/>
<path d="M118.34 363.27V366.94M116.64 363.27h3.4M116.64 366.94h3.4" stroke="#a020a0" stroke-width="0.35" fill="none" opacity="0.4"/>
<circle cx="118.34" cy="365.11" r="0.85" stroke="#a020a0" stroke-width="0.35" fill="none" opacity="0.46"/>
<path d="M118.72 362.77V366.26M117.02 362.77h3.4M117.02 366.26h3.4" stroke="#a020a0" stroke-width="0.35" fill="none" opacity="0.4"/>
<circle cx="118.72" cy="364.52" r="0.85" stroke="#a020a0" stroke-width="0.35" fill="none" opacity="0.46"/>
<path d="M120.29 361.2V363.18M118.59 361.2h3.4M118.59 363.18h3.4" stroke="#a020a0" stroke-width="0.35" fill="none" opacity="0.4"/>
<circle cx="120.29" cy="362.19" r="0.85" stroke="#a020a0" stroke-width="0.35" fill="none" opacity="0.46"/>
<path d="M121.94 361.79V365.01M120.24 361.79h3.4M120.24 365.01h3.4" stroke="#a020a0" stroke-width="0.35" fill="none" opacity="0.4"/>
<circle cx="121.94" cy="363.4" r="0.85" stroke="#a020a0" stroke-width="0.35" fill="none" opacity="0.46"/>
<path d="M122.28 359.89V363.11M120.58 359.89h3.4M120.58 363.11h3.4" stroke="#a020a0" stroke-width="0.35" fill="none" opacity="0.4"/>
<circle cx="122.28" cy="361.5" r="0.85" stroke="#a020a0" stroke-width="0.35" fill="none" opacity="0.46"/>
<path d="M123.5 360.55V363.38M121.8 360.55h3.4M121.8 363.38h3.4" stroke="#a020a0" stroke-width="0.35" fill="none" opacity="0.4"/>
<circle cx="123.5" cy="361.97" r="0.85" stroke="#a020a0" stroke-width="0.35" fill="none" opacity="0.46"/>
<path d="M124.94 363.06V365.51M123.24 363.06h3.4M123.24 365.51h3.4" stroke="#a020a0" stroke-width="0.35" fill="none" opacity="0.4"/>
<circle cx="124.94" cy="364.29" r="0.85" stroke="#a020a0" stroke-width="0.35" fill="none" opacity="0.46"/>
<path d="M125.89 359.26V362.99M124.19 359.26h3.4M124.19 362.99h3.4" stroke="#a020a0" stroke-width="0.35" fill="none" opacity="0.4"/>
<circle cx="125.89" cy="361.13" r="0.85" stroke="#a020a0" stroke-width="0.35" fill="none" opacity="0.46"/>
<path d="M126.72 362.12V364.88M125.02 362.12h3.4M125.02 364.88h3.4" stroke="#a020a0" stroke-width="0.35" fill="none" opacity="0.4"/>
<circle cx="126.72" cy="363.5" r="0.85" stroke="#a020a0" stroke-width="0.35" fill="none" opacity="0.46"/>
<path d="M128.05 360.84V363.27M126.35 360.84h3.4M126.35 363.27h3.4" stroke="#a020a0" stroke-width="0.35" fill="none" opacity="0.4"/>
<circle cx="128.05" cy="362.06" r="0.85" stroke="#a020a0" stroke-width="0.35" fill="none" opacity="0.46"/>
<path d="M81.5 390.18L129 384.44" stroke="#1a1af0" stroke-width="3.0" opacity="0.13"/>
<path d="M81.94 389.19V390.09M80.74 389.19h2.4M80.74 390.09h2.4" stroke="#1a1af0" stroke-width="0.35" fill="none" opacity="0.25"/>
<circle cx="81.94" cy="389.64" r="0.85" stroke="#1a1af0" stroke-width="0.35" fill="none" opacity="0.28"/>
<path d="M87.42 387.4V388.74M86.22 387.4h2.4M86.22 388.74h2.4" stroke="#1a1af0" stroke-width="0.35" fill="none" opacity="0.25"/>
<circle cx="87.42" cy="388.07" r="0.85" stroke="#1a1af0" stroke-width="0.35" fill="none" opacity="0.28"/>
<path d="M81.59 388.31V389.84M80.39 388.31h2.4M80.39 389.84h2.4" stroke="#1a1af0" stroke-width="0.35" fill="none" opacity="0.25"/>
<circle cx="81.59" cy="389.08" r="0.85" stroke="#1a1af0" stroke-width="0.35" fill="none" opacity="0.28"/>
<path d="M85.69 390.13V391.72M84.49 390.13h2.4M84.49 391.72h2.4" stroke="#1a1af0" stroke-width="0.35" fill="none" opacity="0.25"/>
<circle cx="85.69" cy="390.93" r="0.85" stroke="#1a1af0" stroke-width="0.35" fill="none" opacity="0.28"/>
<path d="M88.65 390.16V391.77M87.45 390.16h2.4M87.45 391.77h2.4" stroke="#1a1af0" stroke-width="0.35" fill="none" opacity="0.25"/>
<circle cx="88.65" cy="390.97" r="0.85" stroke="#1a1af0" stroke-width="0.35" fill="none" opacity="0.28"/>
<path d="M82.58 389.96V391.59M81.38 389.96h2.4M81.38 391.59h2.4" stroke="#1a1af0" stroke-width="0.35" fill="none" opacity="0.25"/>
<circle cx="82.58" cy="390.77" r="0.85" stroke="#1a1af0" stroke-width="0.35" fill="none" opacity="0.28"/>
<path d="M83.02 390V390.94M81.82 390h2.4M81.82 390.94h2.4" stroke="#1a1af0" stroke-width="0.35" fill="none" opacity="0.25"/>
<circle cx="83.02" cy="390.47" r="0.85" stroke="#1a1af0" stroke-width="0.35" fill="none" opacity="0.28"/>
<path d="M86.12 389.56V390.43M84.92 389.56h2.4M84.92 390.43h2.4" stroke="#1a1af0" stroke-width="0.35" fill="none" opacity="0.25"/>
<circle cx="86.12" cy="390" r="0.85" stroke="#1a1af0" stroke-width="0.35" fill="none" opacity="0.28"/>
<path d="M85.35 389.97V391.34M84.15 389.97h2.4M84.15 391.34h2.4" stroke="#1a1af0" stroke-width="0.35" fill="none" opacity="0.25"/>
<circle cx="85.35" cy="390.66" r="0.85" stroke="#1a1af0" stroke-width="0.35" fill="none" opacity="0.28"/>
<path d="M87.58 387.33V388.86M86.38 387.33h2.4M86.38 388.86h2.4" stroke="#1a1af0" stroke-width="0.35" fill="none" opacity="0.25"/>
<circle cx="87.58" cy="388.1" r="0.85" stroke="#1a1af0" stroke-width="0.35" fill="none" opacity="0.28"/>
<path d="M88.27 388.39V389.32M87.07 388.39h2.4M87.07 389.32h2.4" stroke="#1a1af0" stroke-width="0.35" fill="none" opacity="0.25"/>
<circle cx="88.27" cy="388.86" r="0.85" stroke="#1a1af0" stroke-width="0.35" fill="none" opacity="0.28"/>
<path d="M88.48 388.33V389.25M87.28 388.33h2.4M87.28 389.25h2.4" stroke="#1a1af0" stroke-width="0.35" fill="none" opacity="0.25"/>
<circle cx="88.48" cy="388.79" r="0.85" stroke="#1a1af0" stroke-width="0.35" fill="none" opacity="0.28"/>
<path d="M89.15 388.73V389.83M87.95 388.73h2.4M87.95 389.83h2.4" stroke="#1a1af0" stroke-width="0.35" fill="none" opacity="0.25"/>
<circle cx="89.15" cy="389.28" r="0.85" stroke="#1a1af0" stroke-width="0.35" fill="none" opacity="0.28"/>
<path d="M89.73 387.97V389.17M88.53 387.97h2.4M88.53 389.17h2.4" stroke="#1a1af0" stroke-width="0.35" fill="none" opacity="0.25"/>
<circle cx="89.73" cy="388.57" r="0.85" stroke="#1a1af0" stroke-width="0.35" fill="none" opacity="0.28"/>
<path d="M90.17 389.28V390.35M88.97 389.28h2.4M88.97 390.35h2.4" stroke="#1a1af0" stroke-width="0.35" fill="none" opacity="0.25"/>
<circle cx="90.17" cy="389.82" r="0.85" stroke="#1a1af0" stroke-width="0.35" fill="none" opacity="0.28"/>
<path d="M91.26 388.37V389.81M90.06 388.37h2.4M90.06 389.81h2.4" stroke="#1a1af0" stroke-width="0.35" fill="none" opacity="0.25"/>
<circle cx="91.26" cy="389.09" r="0.85" stroke="#1a1af0" stroke-width="0.35" fill="none" opacity="0.28"/>
<path d="M91.78 387.57V389.22M90.58 387.57h2.4M90.58 389.22h2.4" stroke="#1a1af0" stroke-width="0.35" fill="none" opacity="0.25"/>
<circle cx="91.78" cy="388.4" r="0.85" stroke="#1a1af0" stroke-width="0.35" fill="none" opacity="0.28"/>
<path d="M92.33 388.82V390.08M91.13 388.82h2.4M91.13 390.08h2.4" stroke="#1a1af0" stroke-width="0.35" fill="none" opacity="0.25"/>
<circle cx="92.33" cy="389.45" r="0.85" stroke="#1a1af0" stroke-width="0.35" fill="none" opacity="0.28"/>
<path d="M92.5 389.16V390.02M91.3 389.16h2.4M91.3 390.02h2.4" stroke="#1a1af0" stroke-width="0.35" fill="none" opacity="0.25"/>
<circle cx="92.5" cy="389.59" r="0.85" stroke="#1a1af0" stroke-width="0.35" fill="none" opacity="0.28"/>
<path d="M93.58 387.12V388.3M92.38 387.12h2.4M92.38 388.3h2.4" stroke="#1a1af0" stroke-width="0.35" fill="none" opacity="0.25"/>
<circle cx="93.58" cy="387.71" r="0.85" stroke="#1a1af0" stroke-width="0.35" fill="none" opacity="0.28"/>
<path d="M94.11 386.66V387.79M92.91 386.66h2.4M92.91 387.79h2.4" stroke="#1a1af0" stroke-width="0.35" fill="none" opacity="0.25"/>
<circle cx="94.11" cy="387.22" r="0.85" stroke="#1a1af0" stroke-width="0.35" fill="none" opacity="0.28"/>
<path d="M94.54 388.49V389.92M93.34 388.49h2.4M93.34 389.92h2.4" stroke="#1a1af0" stroke-width="0.35" fill="none" opacity="0.25"/>
<circle cx="94.54" cy="389.2" r="0.85" stroke="#1a1af0" stroke-width="0.35" fill="none" opacity="0.28"/>
<path d="M95.29 387.12V388.68M94.09 387.12h2.4M94.09 388.68h2.4" stroke="#1a1af0" stroke-width="0.35" fill="none" opacity="0.25"/>
<circle cx="95.29" cy="387.9" r="0.85" stroke="#1a1af0" stroke-width="0.35" fill="none" opacity="0.28"/>
<path d="M95.71 387.85V388.77M94.51 387.85h2.4M94.51 388.77h2.4" stroke="#1a1af0" stroke-width="0.35" fill="none" opacity="0.25"/>
<circle cx="95.71" cy="388.31" r="0.85" stroke="#1a1af0" stroke-width="0.35" fill="none" opacity="0.28"/>
<path d="M96.16 388.22V389.06M94.96 388.22h2.4M94.96 389.06h2.4" stroke="#1a1af0" stroke-width="0.35" fill="none" opacity="0.25"/>
<circle cx="96.16" cy="388.64" r="0.85" stroke="#1a1af0" stroke-width="0.35" fill="none" opacity="0.28"/>
<path d="M96.68 387.34V388.35M95.48 387.34h2.4M95.48 388.35h2.4" stroke="#1a1af0" stroke-width="0.35" fill="none" opacity="0.25"/>
<circle cx="96.68" cy="387.84" r="0.85" stroke="#1a1af0" stroke-width="0.35" fill="none" opacity="0.28"/>
<path d="M97.35 388.03V388.87M96.15 388.03h2.4M96.15 388.87h2.4" stroke="#1a1af0" stroke-width="0.35" fill="none" opacity="0.25"/>
<circle cx="97.35" cy="388.45" r="0.85" stroke="#1a1af0" stroke-width="0.35" fill="none" opacity="0.28"/>
<path d="M97.82 385.1V386.35M96.62 385.1h2.4M96.62 386.35h2.4" stroke="#1a1af0" stroke-width="0.35" fill="none" opacity="0.25"/>
<circle cx="97.82" cy="385.73" r="0.85" stroke="#1a1af0" stroke-width="0.35" fill="none" opacity="0.28"/>
<path d="M98.58 386.01V387M97.38 386.01h2.4M97.38 387h2.4" stroke="#1a1af0" stroke-width="0.35" fill="none" opacity="0.25"/>
<circle cx="98.58" cy="386.51" r="0.85" stroke="#1a1af0" stroke-width="0.35" fill="none" opacity="0.28"/>
<path d="M99.42 387.47V388.72M98.22 387.47h2.4M98.22 388.72h2.4" stroke="#1a1af0" stroke-width="0.35" fill="none" opacity="0.25"/>
<circle cx="99.42" cy="388.1" r="0.85" stroke="#1a1af0" stroke-width="0.35" fill="none" opacity="0.28"/>
<path d="M99.97 386.44V387.5M98.77 386.44h2.4M98.77 387.5h2.4" stroke="#1a1af0" stroke-width="0.35" fill="none" opacity="0.25"/>
<circle cx="99.97" cy="386.97" r="0.85" stroke="#1a1af0" stroke-width="0.35" fill="none" opacity="0.28"/>
<path d="M100.65 388.44V390.07M99.45 388.44h2.4M99.45 390.07h2.4" stroke="#1a1af0" stroke-width="0.35" fill="none" opacity="0.25"/>
<circle cx="100.65" cy="389.25" r="0.85" stroke="#1a1af0" stroke-width="0.35" fill="none" opacity="0.28"/>
<path d="M101.16 386.95V388.38M99.96 386.95h2.4M99.96 388.38h2.4" stroke="#1a1af0" stroke-width="0.35" fill="none" opacity="0.25"/>
<circle cx="101.16" cy="387.67" r="0.85" stroke="#1a1af0" stroke-width="0.35" fill="none" opacity="0.28"/>
<path d="M101.49 387.74V389M100.29 387.74h2.4M100.29 389h2.4" stroke="#1a1af0" stroke-width="0.35" fill="none" opacity="0.25"/>
<circle cx="101.49" cy="388.37" r="0.85" stroke="#1a1af0" stroke-width="0.35" fill="none" opacity="0.28"/>
<path d="M102.24 388.2V389.11M101.04 388.2h2.4M101.04 389.11h2.4" stroke="#1a1af0" stroke-width="0.35" fill="none" opacity="0.25"/>
<circle cx="102.24" cy="388.66" r="0.85" stroke="#1a1af0" stroke-width="0.35" fill="none" opacity="0.28"/>
<path d="M102.76 387.67V389.17M101.56 387.67h2.4M101.56 389.17h2.4" stroke="#1a1af0" stroke-width="0.35" fill="none" opacity="0.25"/>
<circle cx="102.76" cy="388.42" r="0.85" stroke="#1a1af0" stroke-width="0.35" fill="none" opacity="0.28"/>
<path d="M103.56 386.31V387.68M102.36 386.31h2.4M102.36 387.68h2.4" stroke="#1a1af0" stroke-width="0.35" fill="none" opacity="0.25"/>
<circle cx="103.56" cy="386.99" r="0.85" stroke="#1a1af0" stroke-width="0.35" fill="none" opacity="0.28"/>
<path d="M103.99 385.39V386.53M102.79 385.39h2.4M102.79 386.53h2.4" stroke="#1a1af0" stroke-width="0.35" fill="none" opacity="0.25"/>
<circle cx="103.99" cy="385.96" r="0.85" stroke="#1a1af0" stroke-width="0.35" fill="none" opacity="0.28"/>
<path d="M104.43 385.88V387.47M103.23 385.88h2.4M103.23 387.47h2.4" stroke="#1a1af0" stroke-width="0.35" fill="none" opacity="0.25"/>
<circle cx="104.43" cy="386.67" r="0.85" stroke="#1a1af0" stroke-width="0.35" fill="none" opacity="0.28"/>
<path d="M105.24 387.38V388.29M104.04 387.38h2.4M104.04 388.29h2.4" stroke="#1a1af0" stroke-width="0.35" fill="none" opacity="0.25"/>
<circle cx="105.24" cy="387.83" r="0.85" stroke="#1a1af0" stroke-width="0.35" fill="none" opacity="0.28"/>
<path d="M106.02 386.86V387.88M104.82 386.86h2.4M104.82 387.88h2.4" stroke="#1a1af0" stroke-width="0.35" fill="none" opacity="0.25"/>
<circle cx="106.02" cy="387.37" r="0.85" stroke="#1a1af0" stroke-width="0.35" fill="none" opacity="0.28"/>
<path d="M106.17 386.53V387.59M104.97 386.53h2.4M104.97 387.59h2.4" stroke="#1a1af0" stroke-width="0.35" fill="none" opacity="0.25"/>
<circle cx="106.17" cy="387.06" r="0.85" stroke="#1a1af0" stroke-width="0.35" fill="none" opacity="0.28"/>
<path d="M107.15 387.36V388.52M105.95 387.36h2.4M105.95 388.52h2.4" stroke="#1a1af0" stroke-width="0.35" fill="none" opacity="0.25"/>
<circle cx="107.15" cy="387.94" r="0.85" stroke="#1a1af0" stroke-width="0.35" fill="none" opacity="0.28"/>
<path d="M107.23 385.66V387.24M106.03 385.66h2.4M106.03 387.24h2.4" stroke="#1a1af0" stroke-width="0.35" fill="none" opacity="0.25"/>
<circle cx="107.23" cy="386.45" r="0.85" stroke="#1a1af0" stroke-width="0.35" fill="none" opacity="0.28"/>
<path d="M107.96 386.44V387.73M106.76 386.44h2.4M106.76 387.73h2.4" stroke="#1a1af0" stroke-width="0.35" fill="none" opacity="0.25"/>
<circle cx="107.96" cy="387.08" r="0.85" stroke="#1a1af0" stroke-width="0.35" fill="none" opacity="0.28"/>
<path d="M108.53 387.17V388.64M107.33 387.17h2.4M107.33 388.64h2.4" stroke="#1a1af0" stroke-width="0.35" fill="none" opacity="0.25"/>
<circle cx="108.53" cy="387.9" r="0.85" stroke="#1a1af0" stroke-width="0.35" fill="none" opacity="0.28"/>
<path d="M109.42 386.26V387.39M108.22 386.26h2.4M108.22 387.39h2.4" stroke="#1a1af0" stroke-width="0.35" fill="none" opacity="0.25"/>
<circle cx="109.42" cy="386.83" r="0.85" stroke="#1a1af0" stroke-width="0.35" fill="none" opacity="0.28"/>
<path d="M110.13 384.86V385.98M108.93 384.86h2.4M108.93 385.98h2.4" stroke="#1a1af0" stroke-width="0.35" fill="none" opacity="0.25"/>
<circle cx="110.13" cy="385.42" r="0.85" stroke="#1a1af0" stroke-width="0.35" fill="none" opacity="0.28"/>
<path d="M110.6 386.93V388.33M109.4 386.93h2.4M109.4 388.33h2.4" stroke="#1a1af0" stroke-width="0.35" fill="none" opacity="0.25"/>
<circle cx="110.6" cy="387.63" r="0.85" stroke="#1a1af0" stroke-width="0.35" fill="none" opacity="0.28"/>
<path d="M110.94 387.32V388.78M109.74 387.32h2.4M109.74 388.78h2.4" stroke="#1a1af0" stroke-width="0.35" fill="none" opacity="0.25"/>
<circle cx="110.94" cy="388.05" r="0.85" stroke="#1a1af0" stroke-width="0.35" fill="none" opacity="0.28"/>
<path d="M111.86 386.23V387.72M110.66 386.23h2.4M110.66 387.72h2.4" stroke="#1a1af0" stroke-width="0.35" fill="none" opacity="0.25"/>
<circle cx="111.86" cy="386.98" r="0.85" stroke="#1a1af0" stroke-width="0.35" fill="none" opacity="0.28"/>
<path d="M112.12 386.66V387.99M110.92 386.66h2.4M110.92 387.99h2.4" stroke="#1a1af0" stroke-width="0.35" fill="none" opacity="0.25"/>
<circle cx="112.12" cy="387.32" r="0.85" stroke="#1a1af0" stroke-width="0.35" fill="none" opacity="0.28"/>
<path d="M112.66 386.32V387.91M111.46 386.32h2.4M111.46 387.91h2.4" stroke="#1a1af0" stroke-width="0.35" fill="none" opacity="0.25"/>
<circle cx="112.66" cy="387.12" r="0.85" stroke="#1a1af0" stroke-width="0.35" fill="none" opacity="0.28"/>
<path d="M113.64 386.49V387.53M112.44 386.49h2.4M112.44 387.53h2.4" stroke="#1a1af0" stroke-width="0.35" fill="none" opacity="0.25"/>
<circle cx="113.64" cy="387.01" r="0.85" stroke="#1a1af0" stroke-width="0.35" fill="none" opacity="0.28"/>
<path d="M114.06 385.8V387.23M112.86 385.8h2.4M112.86 387.23h2.4" stroke="#1a1af0" stroke-width="0.35" fill="none" opacity="0.25"/>
<circle cx="114.06" cy="386.51" r="0.85" stroke="#1a1af0" stroke-width="0.35" fill="none" opacity="0.28"/>
<path d="M114.69 386.1V387.65M113.49 386.1h2.4M113.49 387.65h2.4" stroke="#1a1af0" stroke-width="0.35" fill="none" opacity="0.25"/>
<circle cx="114.69" cy="386.88" r="0.85" stroke="#1a1af0" stroke-width="0.35" fill="none" opacity="0.28"/>
<path d="M115.26 385.87V386.92M114.06 385.87h2.4M114.06 386.92h2.4" stroke="#1a1af0" stroke-width="0.35" fill="none" opacity="0.25"/>
<circle cx="115.26" cy="386.39" r="0.85" stroke="#1a1af0" stroke-width="0.35" fill="none" opacity="0.28"/>
<path d="M116.04 385.88V386.99M114.84 385.88h2.4M114.84 386.99h2.4" stroke="#1a1af0" stroke-width="0.35" fill="none" opacity="0.25"/>
<circle cx="116.04" cy="386.44" r="0.85" stroke="#1a1af0" stroke-width="0.35" fill="none" opacity="0.28"/>
<path d="M116.32 384.88V386M115.12 384.88h2.4M115.12 386h2.4" stroke="#1a1af0" stroke-width="0.35" fill="none" opacity="0.25"/>
<circle cx="116.32" cy="385.44" r="0.85" stroke="#1a1af0" stroke-width="0.35" fill="none" opacity="0.28"/>
<path d="M117.13 385.3V386.3M115.93 385.3h2.4M115.93 386.3h2.4" stroke="#1a1af0" stroke-width="0.35" fill="none" opacity="0.25"/>
<circle cx="117.13" cy="385.8" r="0.85" stroke="#1a1af0" stroke-width="0.35" fill="none" opacity="0.28"/>
<path d="M117.64 386.78V387.71M116.44 386.78h2.4M116.44 387.71h2.4" stroke="#1a1af0" stroke-width="0.35" fill="none" opacity="0.25"/>
<circle cx="117.64" cy="387.25" r="0.85" stroke="#1a1af0" stroke-width="0.35" fill="none" opacity="0.28"/>
<path d="M118.32 384.68V386.32M117.12 384.68h2.4M117.12 386.32h2.4" stroke="#1a1af0" stroke-width="0.35" fill="none" opacity="0.25"/>
<circle cx="118.32" cy="385.5" r="0.85" stroke="#1a1af0" stroke-width="0.35" fill="none" opacity="0.28"/>
<path d="M118.66 385.56V387.23M117.46 385.56h2.4M117.46 387.23h2.4" stroke="#1a1af0" stroke-width="0.35" fill="none" opacity="0.25"/>
<circle cx="118.66" cy="386.4" r="0.85" stroke="#1a1af0" stroke-width="0.35" fill="none" opacity="0.28"/>
<path d="M119.42 385.37V386.88M118.22 385.37h2.4M118.22 386.88h2.4" stroke="#1a1af0" stroke-width="0.35" fill="none" opacity="0.25"/>
<circle cx="119.42" cy="386.12" r="0.85" stroke="#1a1af0" stroke-width="0.35" fill="none" opacity="0.28"/>
<path d="M119.92 384.93V385.94M118.72 384.93h2.4M118.72 385.94h2.4" stroke="#1a1af0" stroke-width="0.35" fill="none" opacity="0.25"/>
<circle cx="119.92" cy="385.43" r="0.85" stroke="#1a1af0" stroke-width="0.35" fill="none" opacity="0.28"/>
<path d="M120.35 383.84V385.21M119.15 383.84h2.4M119.15 385.21h2.4" stroke="#1a1af0" stroke-width="0.35" fill="none" opacity="0.25"/>
<circle cx="120.35" cy="384.53" r="0.85" stroke="#1a1af0" stroke-width="0.35" fill="none" opacity="0.28"/>
<path d="M120.88 385.31V386.48M119.68 385.31h2.4M119.68 386.48h2.4" stroke="#1a1af0" stroke-width="0.35" fill="none" opacity="0.25"/>
<circle cx="120.88" cy="385.9" r="0.85" stroke="#1a1af0" stroke-width="0.35" fill="none" opacity="0.28"/>
<path d="M121.71 385.26V386.13M120.51 385.26h2.4M120.51 386.13h2.4" stroke="#1a1af0" stroke-width="0.35" fill="none" opacity="0.25"/>
<circle cx="121.71" cy="385.7" r="0.85" stroke="#1a1af0" stroke-width="0.35" fill="none" opacity="0.28"/>
<path d="M121.98 383.29V384.71M120.78 383.29h2.4M120.78 384.71h2.4" stroke="#1a1af0" stroke-width="0.35" fill="none" opacity="0.25"/>
<circle cx="121.98" cy="384" r="0.85" stroke="#1a1af0" stroke-width="0.35" fill="none" opacity="0.28"/>
<path d="M123.06 385.47V386.73M121.86 385.47h2.4M121.86 386.73h2.4" stroke="#1a1af0" stroke-width="0.35" fill="none" opacity="0.25"/>
<circle cx="123.06" cy="386.1" r="0.85" stroke="#1a1af0" stroke-width="0.35" fill="none" opacity="0.28"/>
<path d="M123.2 383.98V384.94M122 383.98h2.4M122 384.94h2.4" stroke="#1a1af0" stroke-width="0.35" fill="none" opacity="0.25"/>
<circle cx="123.2" cy="384.46" r="0.85" stroke="#1a1af0" stroke-width="0.35" fill="none" opacity="0.28"/>
<path d="M123.72 383.66V385.01M122.52 383.66h2.4M122.52 385.01h2.4" stroke="#1a1af0" stroke-width="0.35" fill="none" opacity="0.25"/>
<circle cx="123.72" cy="384.33" r="0.85" stroke="#1a1af0" stroke-width="0.35" fill="none" opacity="0.28"/>
<path d="M124.35 382.97V384.58M123.15 382.97h2.4M123.15 384.58h2.4" stroke="#1a1af0" stroke-width="0.35" fill="none" opacity="0.25"/>
<circle cx="124.35" cy="383.78" r="0.85" stroke="#1a1af0" stroke-width="0.35" fill="none" opacity="0.28"/>
<path d="M125.43 385.1V386.3M124.23 385.1h2.4M124.23 386.3h2.4" stroke="#1a1af0" stroke-width="0.35" fill="none" opacity="0.25"/>
<circle cx="125.43" cy="385.7" r="0.85" stroke="#1a1af0" stroke-width="0.35" fill="none" opacity="0.28"/>
<path d="M125.67 382.9V384.1M124.47 382.9h2.4M124.47 384.1h2.4" stroke="#1a1af0" stroke-width="0.35" fill="none" opacity="0.25"/>
<circle cx="125.67" cy="383.5" r="0.85" stroke="#1a1af0" stroke-width="0.35" fill="none" opacity="0.28"/>
<path d="M126.14 383.59V384.63M124.94 383.59h2.4M124.94 384.63h2.4" stroke="#1a1af0" stroke-width="0.35" fill="none" opacity="0.25"/>
<circle cx="126.14" cy="384.11" r="0.85" stroke="#1a1af0" stroke-width="0.35" fill="none" opacity="0.28"/>
<path d="M126.66 383.65V385.14M125.46 383.65h2.4M125.46 385.14h2.4" stroke="#1a1af0" stroke-width="0.35" fill="none" opacity="0.25"/>
<circle cx="126.66" cy="384.4" r="0.85" stroke="#1a1af0" stroke-width="0.35" fill="none" opacity="0.28"/>
<path d="M127.26 382.11V383.54M126.06 382.11h2.4M126.06 383.54h2.4" stroke="#1a1af0" stroke-width="0.35" fill="none" opacity="0.25"/>
<circle cx="127.26" cy="382.82" r="0.85" stroke="#1a1af0" stroke-width="0.35" fill="none" opacity="0.28"/>
<path d="M128.23 384.65V386.03M127.03 384.65h2.4M127.03 386.03h2.4" stroke="#1a1af0" stroke-width="0.35" fill="none" opacity="0.25"/>
<circle cx="128.23" cy="385.34" r="0.85" stroke="#1a1af0" stroke-width="0.35" fill="none" opacity="0.28"/>
<path d="M128.78 382.77V383.99M127.58 382.77h2.4M127.58 383.99h2.4" stroke="#1a1af0" stroke-width="0.35" fill="none" opacity="0.25"/>
<circle cx="128.78" cy="383.38" r="0.85" stroke="#1a1af0" stroke-width="0.35" fill="none" opacity="0.28"/>
<path d="M87.4 322L126 310" stroke="#3a3a3a" stroke-width="0.5"/>
<path d="M87.4 339L126 333.4" stroke="#3a3a3a" stroke-width="0.5"/>
<path d="M86.3 360.7L129.3 352.4" stroke="#3a3a3a" stroke-width="0.5"/>
<path d="M81.3 370.6L128.5 361.5" stroke="#3a3a3a" stroke-width="0.5"/>
<path d="M81.3 390.2L129.3 384.4" stroke="#3a3a3a" stroke-width="0.5"/>
</g>
<rect x="81.3" y="304" width="48.3" height="105.2" fill="none" stroke="#2a2a2a" stroke-width="0.68"/>
<path d="M81.3 305.6h2M129.6 305.6h-2" stroke="#222" stroke-width="0.7"/>
<text x="79" y="308" font-size="6.7" text-anchor="end" fill="#222" stroke="#222" stroke-width="0.1">180</text>
<path d="M81.3 317.9h2M129.6 317.9h-2" stroke="#222" stroke-width="0.7"/>
<text x="79" y="320.3" font-size="6.7" text-anchor="end" fill="#222" stroke="#222" stroke-width="0.1">150</text>
<path d="M81.3 330.2h2M129.6 330.2h-2" stroke="#222" stroke-width="0.7"/>
<text x="79" y="332.6" font-size="6.7" text-anchor="end" fill="#222" stroke="#222" stroke-width="0.1">120</text>
<path d="M81.3 342.4h2M129.6 342.4h-2" stroke="#222" stroke-width="0.7"/>
<text x="79" y="344.8" font-size="6.7" text-anchor="end" fill="#222" stroke="#222" stroke-width="0.1">90</text>
<path d="M81.3 358.2h2M129.6 358.2h-2" stroke="#222" stroke-width="0.7"/>
<text x="79" y="360.6" font-size="6.7" text-anchor="end" fill="#222" stroke="#222" stroke-width="0.1">50</text>
<path d="M81.3 369.9h2M129.6 369.9h-2" stroke="#222" stroke-width="0.7"/>
<text x="79" y="372.3" font-size="6.7" text-anchor="end" fill="#222" stroke="#222" stroke-width="0.1">40</text>
<path d="M81.3 380.3h2M129.6 380.3h-2" stroke="#222" stroke-width="0.7"/>
<text x="79" y="382.7" font-size="6.7" text-anchor="end" fill="#222" stroke="#222" stroke-width="0.1">30</text>
<path d="M81.3 389.8h2M129.6 389.8h-2" stroke="#222" stroke-width="0.7"/>
<text x="79" y="392.2" font-size="6.7" text-anchor="end" fill="#222" stroke="#222" stroke-width="0.1">20</text>
<path d="M81.3 399.3h2M129.6 399.3h-2" stroke="#222" stroke-width="0.7"/>
<text x="79" y="401.7" font-size="6.7" text-anchor="end" fill="#222" stroke="#222" stroke-width="0.1">10</text>
<path d="M81.3 408.8h2M129.6 408.8h-2" stroke="#222" stroke-width="0.7"/>
<text x="79" y="411.2" font-size="6.7" text-anchor="end" fill="#222" stroke="#222" stroke-width="0.1">0</text>
<path d="M81.3 311.7h1.2M129.6 311.7h-1.2" stroke="#222" stroke-width="0.6"/>
<path d="M81.3 324h1.2M129.6 324h-1.2" stroke="#222" stroke-width="0.6"/>
<path d="M81.3 336.3h1.2M129.6 336.3h-1.2" stroke="#222" stroke-width="0.6"/>
<path d="M81.3 364h1.2M129.6 364h-1.2" stroke="#222" stroke-width="0.6"/>
<path d="M81.3 385h1.2M129.6 385h-1.2" stroke="#222" stroke-width="0.6"/>
<path d="M81.3 394.5h1.2M129.6 394.5h-1.2" stroke="#222" stroke-width="0.6"/>
<path d="M81.3 404h1.2M129.6 404h-1.2" stroke="#222" stroke-width="0.6"/>
<path d="M79 345.15l4.6 -1.3M79 346.65l4.6 -1.3" stroke="#151515" stroke-width="0.72"/>
<path d="M127.3 345.15l4.6 -1.3M127.3 346.65l4.6 -1.3" stroke="#151515" stroke-width="0.72"/>
<path d="M79 376.95l4.6 -1.3M79 378.45l4.6 -1.3" stroke="#151515" stroke-width="0.72"/>
<path d="M127.3 376.95l4.6 -1.3M127.3 378.45l4.6 -1.3" stroke="#151515" stroke-width="0.72"/>
<path d="M89.8 409.2v-2M89.8 304v2" stroke="#222" stroke-width="0.7"/>
<text x="89.8" y="416.7" font-size="6.7" text-anchor="middle" fill="#222" stroke="#222" stroke-width="0.1">8</text>
<path d="M107.6 409.2v-2M107.6 304v2" stroke="#222" stroke-width="0.7"/>
<text x="107.6" y="416.7" font-size="6.7" text-anchor="middle" fill="#222" stroke="#222" stroke-width="0.1">10</text>
<path d="M125.4 409.2v-2M125.4 304v2" stroke="#222" stroke-width="0.7"/>
<text x="125.4" y="416.7" font-size="6.7" text-anchor="middle" fill="#222" stroke="#222" stroke-width="0.1">12</text>
<path d="M80.9 409.2v-1.2M80.9 304v1.2" stroke="#222" stroke-width="0.6"/>
<path d="M98.7 409.2v-1.2M98.7 304v1.2" stroke="#222" stroke-width="0.6"/>
<path d="M116.5 409.2v-1.2M116.5 304v1.2" stroke="#222" stroke-width="0.6"/>
<text x="84.5" y="312.4" font-size="6.9" text-anchor="start" fill="#222" stroke="#222" stroke-width="0.1">(d)</text>
<circle cx="107.6" cy="323" r="1.0" stroke="#ff8a14" stroke-width="0.45" fill="none" opacity="0.9"/>
<text x="127.3" y="324.2" font-size="4.7" text-anchor="end" fill="#151515" stroke="#3a3a3a" stroke-width="0" font-family='"Liberation Serif", serif'>18.7 nm</text>
<circle cx="107.6" cy="340.9" r="1.0" stroke="#14851e" stroke-width="0.45" fill="none" opacity="0.9"/>
<text x="127.3" y="342.1" font-size="4.7" text-anchor="end" fill="#151515" stroke="#3a3a3a" stroke-width="0" font-family='"Liberation Serif", serif'>39.8 nm</text>
<circle cx="107.6" cy="347.9" r="1.0" stroke="#179090" stroke-width="0.45" fill="none" opacity="0.9"/>
<text x="127.3" y="349.1" font-size="4.7" text-anchor="end" fill="#151515" stroke="#3a3a3a" stroke-width="0" font-family='"Liberation Serif", serif'>100 &#160;nm</text>
<circle cx="107.6" cy="372.3" r="1.0" stroke="#a020a0" stroke-width="0.45" fill="none" opacity="0.9"/>
<text x="127.3" y="373.5" font-size="4.7" text-anchor="end" fill="#151515" stroke="#3a3a3a" stroke-width="0" font-family='"Liberation Serif", serif'>150 &#160;nm</text>
<circle cx="107.6" cy="393" r="1.0" stroke="#1a1af0" stroke-width="0.45" fill="none" opacity="0.9"/>
<text x="127.3" y="394.2" font-size="4.7" text-anchor="end" fill="#151515" stroke="#3a3a3a" stroke-width="0" font-family='"Liberation Serif", serif'>200 &#160;nm</text>
<text x="5.6" y="358.2" font-size="6.4" fill="#222" stroke="#222" stroke-width="0.12" text-anchor="middle" textLength="25.2" lengthAdjust="spacingAndGlyphs" transform="rotate(-90 5.6 358.2)"><tspan font-style="italic">&#916;H</tspan> (Oe)</text>
<text x="44.5" y="423.0" font-size="6.8" fill="#222"><tspan font-style="italic">Frequency</tspan> (GHz)</text>
</svg></body></html>
